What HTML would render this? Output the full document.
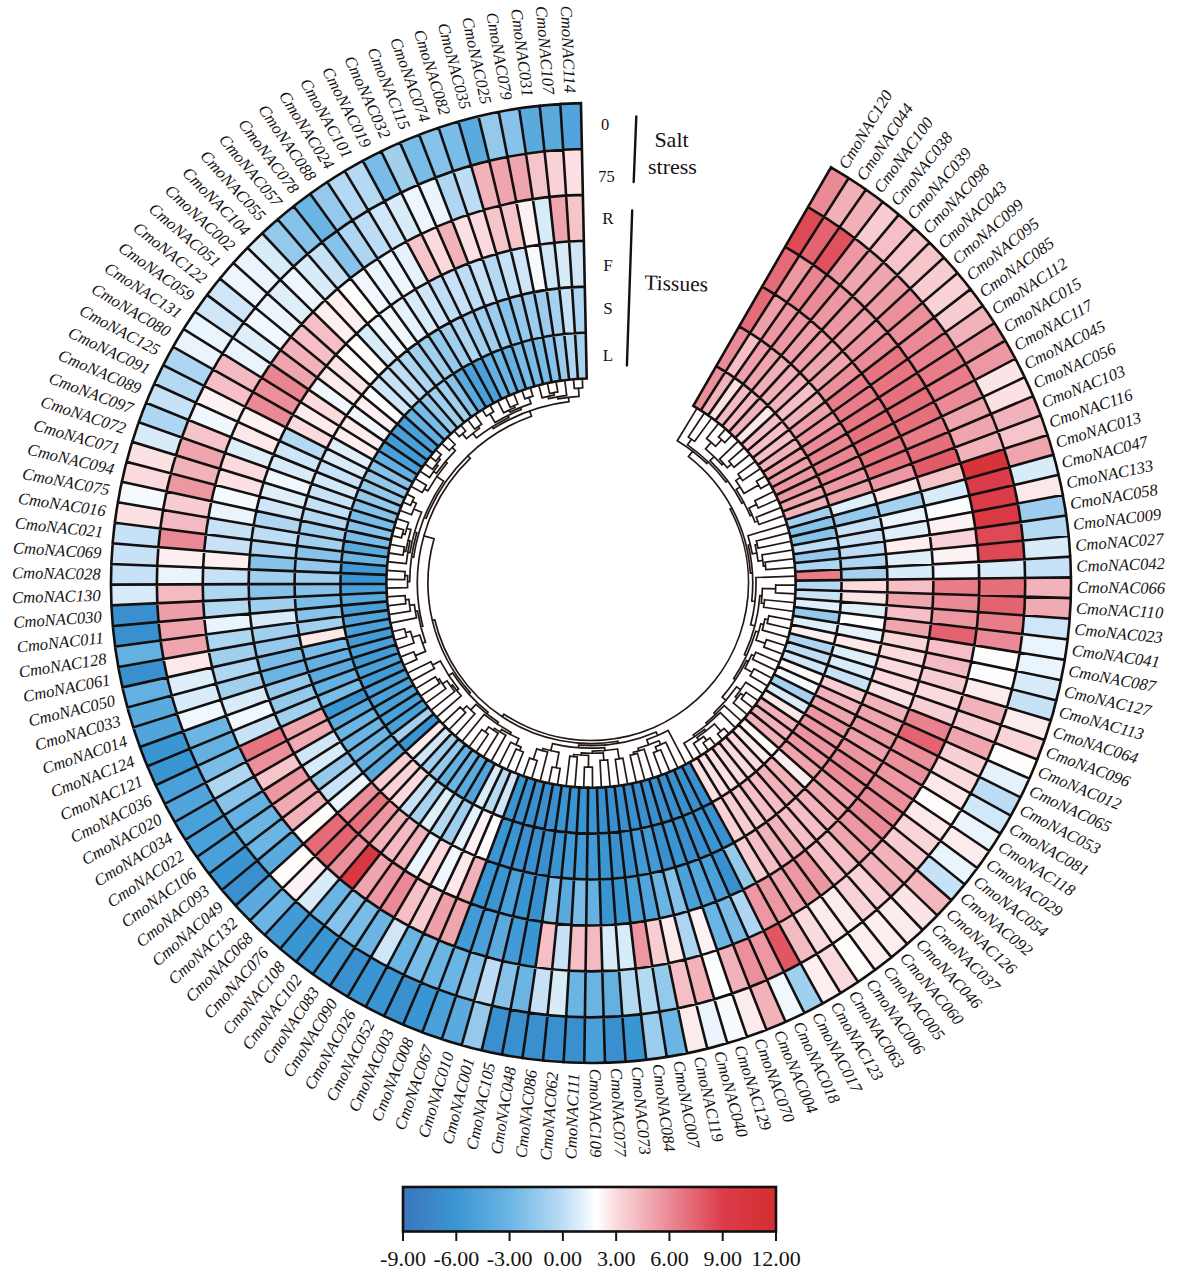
<!DOCTYPE html>
<html lang="en"><head><meta charset="utf-8"><title>CmoNAC expression heatmap</title>
<style>html,body{margin:0;padding:0;background:#fff}svg{display:block}</style></head>
<body>
<svg width="1182" height="1276" viewBox="0 0 1182 1276">
<rect width="1182" height="1276" fill="#fff"/>
<g stroke="none">
<path d="M831 167.31A480 480 0 0 1 848.71 178.05L824.06 216.77A434.1 434.1 0 0 0 808.05 207.06Z" fill="#ea8a96"/>
<path d="M808.05 207.06A434.1 434.1 0 0 1 824.06 216.77L799.42 255.49A388.2 388.2 0 0 0 785.1 246.81Z" fill="#de4956"/>
<path d="M785.1 246.81A388.2 388.2 0 0 1 799.42 255.49L774.78 294.22A342.3 342.3 0 0 0 762.15 286.56Z" fill="#e46b77"/>
<path d="M762.15 286.56A342.3 342.3 0 0 1 774.78 294.22L750.13 332.94A296.4 296.4 0 0 0 739.2 326.31Z" fill="#e46b77"/>
<path d="M739.2 326.31A296.4 296.4 0 0 1 750.13 332.94L725.49 371.67A250.5 250.5 0 0 0 716.25 366.06Z" fill="#ea8a96"/>
<path d="M716.25 366.06A250.5 250.5 0 0 1 725.49 371.67L700.85 410.39A204.6 204.6 0 0 0 693.3 405.81Z" fill="#eb8f9b"/>
<path d="M848.71 178.05A480 480 0 0 1 865.93 189.54L839.64 227.16A434.1 434.1 0 0 0 824.06 216.77Z" fill="#f1afb7"/>
<path d="M824.06 216.77A434.1 434.1 0 0 1 839.64 227.16L813.35 264.79A388.2 388.2 0 0 0 799.42 255.49Z" fill="#e36370"/>
<path d="M799.42 255.49A388.2 388.2 0 0 1 813.35 264.79L787.06 302.41A342.3 342.3 0 0 0 774.78 294.22Z" fill="#ed97a2"/>
<path d="M774.78 294.22A342.3 342.3 0 0 1 787.06 302.41L760.77 340.04A296.4 296.4 0 0 0 750.13 332.94Z" fill="#ee9fa9"/>
<path d="M750.13 332.94A296.4 296.4 0 0 1 760.77 340.04L734.48 377.66A250.5 250.5 0 0 0 725.49 371.67Z" fill="#f5bfc5"/>
<path d="M725.49 371.67A250.5 250.5 0 0 1 734.48 377.66L708.19 415.29A204.6 204.6 0 0 0 700.85 410.39Z" fill="#f2b2ba"/>
<path d="M865.93 189.54A480 480 0 0 1 882.65 201.77L854.76 238.22A434.1 434.1 0 0 0 839.64 227.16Z" fill="#f1afb7"/>
<path d="M839.64 227.16A434.1 434.1 0 0 1 854.76 238.22L826.87 274.68A388.2 388.2 0 0 0 813.35 264.79Z" fill="#e0515e"/>
<path d="M813.35 264.79A388.2 388.2 0 0 1 826.87 274.68L798.98 311.13A342.3 342.3 0 0 0 787.06 302.41Z" fill="#e98591"/>
<path d="M787.06 302.41A342.3 342.3 0 0 1 798.98 311.13L771.09 347.59A296.4 296.4 0 0 0 760.77 340.04Z" fill="#ed97a2"/>
<path d="M760.77 340.04A296.4 296.4 0 0 1 771.09 347.59L743.21 384.04A250.5 250.5 0 0 0 734.48 377.66Z" fill="#ee9fa9"/>
<path d="M734.48 377.66A250.5 250.5 0 0 1 743.21 384.04L715.32 420.5A204.6 204.6 0 0 0 708.19 415.29Z" fill="#fbe1e3"/>
<path d="M882.65 201.77A480 480 0 0 1 898.82 214.7L869.39 249.92A434.1 434.1 0 0 0 854.76 238.22Z" fill="#f7cdd1"/>
<path d="M854.76 238.22A434.1 434.1 0 0 1 869.39 249.92L839.95 285.14A388.2 388.2 0 0 0 826.87 274.68Z" fill="#ed97a2"/>
<path d="M826.87 274.68A388.2 388.2 0 0 1 839.95 285.14L810.52 320.36A342.3 342.3 0 0 0 798.98 311.13Z" fill="#ea8a96"/>
<path d="M798.98 311.13A342.3 342.3 0 0 1 810.52 320.36L781.08 355.57A296.4 296.4 0 0 0 771.09 347.59Z" fill="#ed97a2"/>
<path d="M771.09 347.59A296.4 296.4 0 0 1 781.08 355.57L751.65 390.79A250.5 250.5 0 0 0 743.21 384.04Z" fill="#efa5ae"/>
<path d="M743.21 384.04A250.5 250.5 0 0 1 751.65 390.79L722.21 426.01A204.6 204.6 0 0 0 715.32 420.5Z" fill="#f4bac1"/>
<path d="M898.82 214.7A480 480 0 0 1 914.42 228.32L883.5 262.24A434.1 434.1 0 0 0 869.39 249.92Z" fill="#f5bfc5"/>
<path d="M869.39 249.92A434.1 434.1 0 0 1 883.5 262.24L852.57 296.15A388.2 388.2 0 0 0 839.95 285.14Z" fill="#efa5ae"/>
<path d="M839.95 285.14A388.2 388.2 0 0 1 852.57 296.15L821.64 330.07A342.3 342.3 0 0 0 810.52 320.36Z" fill="#ed97a2"/>
<path d="M810.52 320.36A342.3 342.3 0 0 1 821.64 330.07L790.71 363.99A296.4 296.4 0 0 0 781.08 355.57Z" fill="#ee9fa9"/>
<path d="M781.08 355.57A296.4 296.4 0 0 1 790.71 363.99L759.79 397.9A250.5 250.5 0 0 0 751.65 390.79Z" fill="#f1afb7"/>
<path d="M751.65 390.79A250.5 250.5 0 0 1 759.79 397.9L728.86 431.82A204.6 204.6 0 0 0 722.21 426.01Z" fill="#f4bac1"/>
<path d="M914.42 228.32A480 480 0 0 1 929.42 242.6L897.06 275.15A434.1 434.1 0 0 0 883.5 262.24Z" fill="#f6c5ca"/>
<path d="M883.5 262.24A434.1 434.1 0 0 1 897.06 275.15L864.7 307.7A388.2 388.2 0 0 0 852.57 296.15Z" fill="#efa5ae"/>
<path d="M852.57 296.15A388.2 388.2 0 0 1 864.7 307.7L832.34 340.25A342.3 342.3 0 0 0 821.64 330.07Z" fill="#ed97a2"/>
<path d="M821.64 330.07A342.3 342.3 0 0 1 832.34 340.25L799.97 372.8A296.4 296.4 0 0 0 790.71 363.99Z" fill="#ee9fa9"/>
<path d="M790.71 363.99A296.4 296.4 0 0 1 799.97 372.8L767.61 405.35A250.5 250.5 0 0 0 759.79 397.9Z" fill="#f1afb7"/>
<path d="M759.79 397.9A250.5 250.5 0 0 1 767.61 405.35L735.25 437.91A204.6 204.6 0 0 0 728.86 431.82Z" fill="#f2b2ba"/>
<path d="M929.42 242.6A480 480 0 0 1 943.79 257.52L910.05 288.64A434.1 434.1 0 0 0 897.06 275.15Z" fill="#f6c5ca"/>
<path d="M897.06 275.15A434.1 434.1 0 0 1 910.05 288.64L876.32 319.76A388.2 388.2 0 0 0 864.7 307.7Z" fill="#ee9da7"/>
<path d="M864.7 307.7A388.2 388.2 0 0 1 876.32 319.76L842.58 350.89A342.3 342.3 0 0 0 832.34 340.25Z" fill="#ee9fa9"/>
<path d="M832.34 340.25A342.3 342.3 0 0 1 842.58 350.89L808.85 382.01A296.4 296.4 0 0 0 799.97 372.8Z" fill="#efa5ae"/>
<path d="M799.97 372.8A296.4 296.4 0 0 1 808.85 382.01L775.11 413.14A250.5 250.5 0 0 0 767.61 405.35Z" fill="#f2b2ba"/>
<path d="M767.61 405.35A250.5 250.5 0 0 1 775.11 413.14L741.38 444.26A204.6 204.6 0 0 0 735.25 437.91Z" fill="#fce7e9"/>
<path d="M943.79 257.52A480 480 0 0 1 957.5 273.04L922.45 302.68A434.1 434.1 0 0 0 910.05 288.64Z" fill="#f7cdd1"/>
<path d="M910.05 288.64A434.1 434.1 0 0 1 922.45 302.68L887.41 332.32A388.2 388.2 0 0 0 876.32 319.76Z" fill="#eb8f9b"/>
<path d="M876.32 319.76A388.2 388.2 0 0 1 887.41 332.32L852.36 361.96A342.3 342.3 0 0 0 842.58 350.89Z" fill="#ed97a2"/>
<path d="M842.58 350.89A342.3 342.3 0 0 1 852.36 361.96L817.31 391.6A296.4 296.4 0 0 0 808.85 382.01Z" fill="#efa5ae"/>
<path d="M808.85 382.01A296.4 296.4 0 0 1 817.31 391.6L782.27 421.24A250.5 250.5 0 0 0 775.11 413.14Z" fill="#f5bfc5"/>
<path d="M775.11 413.14A250.5 250.5 0 0 1 782.27 421.24L747.22 450.88A204.6 204.6 0 0 0 741.38 444.26Z" fill="#f5bfc5"/>
<path d="M957.5 273.04A480 480 0 0 1 970.53 289.13L934.24 317.23A434.1 434.1 0 0 0 922.45 302.68Z" fill="#f8d2d6"/>
<path d="M922.45 302.68A434.1 434.1 0 0 1 934.24 317.23L897.94 345.34A388.2 388.2 0 0 0 887.41 332.32Z" fill="#eb8f9b"/>
<path d="M887.41 332.32A388.2 388.2 0 0 1 897.94 345.34L861.65 373.44A342.3 342.3 0 0 0 852.36 361.96Z" fill="#ea8a96"/>
<path d="M852.36 361.96A342.3 342.3 0 0 1 861.65 373.44L825.36 401.54A296.4 296.4 0 0 0 817.31 391.6Z" fill="#eb8f9b"/>
<path d="M817.31 391.6A296.4 296.4 0 0 1 825.36 401.54L789.07 429.64A250.5 250.5 0 0 0 782.27 421.24Z" fill="#f2b2ba"/>
<path d="M782.27 421.24A250.5 250.5 0 0 1 789.07 429.64L752.77 457.74A204.6 204.6 0 0 0 747.22 450.88Z" fill="#f5bfc5"/>
<path d="M970.53 289.13A480 480 0 0 1 982.85 305.78L945.38 332.29A434.1 434.1 0 0 0 934.24 317.23Z" fill="#f7cdd1"/>
<path d="M934.24 317.23A434.1 434.1 0 0 1 945.38 332.29L907.91 358.8A388.2 388.2 0 0 0 897.94 345.34Z" fill="#ea8a96"/>
<path d="M897.94 345.34A388.2 388.2 0 0 1 907.91 358.8L870.44 385.31A342.3 342.3 0 0 0 861.65 373.44Z" fill="#e67581"/>
<path d="M861.65 373.44A342.3 342.3 0 0 1 870.44 385.31L832.97 411.82A296.4 296.4 0 0 0 825.36 401.54Z" fill="#e87d89"/>
<path d="M825.36 401.54A296.4 296.4 0 0 1 832.97 411.82L795.5 438.32A250.5 250.5 0 0 0 789.07 429.64Z" fill="#ee9fa9"/>
<path d="M789.07 429.64A250.5 250.5 0 0 1 795.5 438.32L758.03 464.83A204.6 204.6 0 0 0 752.77 457.74Z" fill="#f5bfc5"/>
<path d="M982.85 305.78A480 480 0 0 1 994.44 322.94L955.87 347.81A434.1 434.1 0 0 0 945.38 332.29Z" fill="#f2b2ba"/>
<path d="M945.38 332.29A434.1 434.1 0 0 1 955.87 347.81L917.29 372.67A388.2 388.2 0 0 0 907.91 358.8Z" fill="#e9828e"/>
<path d="M907.91 358.8A388.2 388.2 0 0 1 917.29 372.67L878.71 397.54A342.3 342.3 0 0 0 870.44 385.31Z" fill="#e67581"/>
<path d="M870.44 385.31A342.3 342.3 0 0 1 878.71 397.54L840.13 422.41A296.4 296.4 0 0 0 832.97 411.82Z" fill="#e87d89"/>
<path d="M832.97 411.82A296.4 296.4 0 0 1 840.13 422.41L801.55 447.28A250.5 250.5 0 0 0 795.5 438.32Z" fill="#ed97a2"/>
<path d="M795.5 438.32A250.5 250.5 0 0 1 801.55 447.28L762.97 472.15A204.6 204.6 0 0 0 758.03 464.83Z" fill="#f2b2ba"/>
<path d="M994.44 322.94A480 480 0 0 1 1005.29 340.58L965.67 363.76A434.1 434.1 0 0 0 955.87 347.81Z" fill="#ed97a2"/>
<path d="M955.87 347.81A434.1 434.1 0 0 1 965.67 363.76L926.05 386.94A388.2 388.2 0 0 0 917.29 372.67Z" fill="#e87d89"/>
<path d="M917.29 372.67A388.2 388.2 0 0 1 926.05 386.94L886.44 410.13A342.3 342.3 0 0 0 878.71 397.54Z" fill="#e5707c"/>
<path d="M878.71 397.54A342.3 342.3 0 0 1 886.44 410.13L846.82 433.31A296.4 296.4 0 0 0 840.13 422.41Z" fill="#e67581"/>
<path d="M840.13 422.41A296.4 296.4 0 0 1 846.82 433.31L807.21 456.49A250.5 250.5 0 0 0 801.55 447.28Z" fill="#ea8a96"/>
<path d="M801.55 447.28A250.5 250.5 0 0 1 807.21 456.49L767.59 479.67A204.6 204.6 0 0 0 762.97 472.15Z" fill="#efa5ae"/>
<path d="M1005.29 340.58A480 480 0 0 1 1015.36 358.68L974.78 380.13A434.1 434.1 0 0 0 965.67 363.76Z" fill="#ed97a2"/>
<path d="M965.67 363.76A434.1 434.1 0 0 1 974.78 380.13L934.2 401.58A388.2 388.2 0 0 0 926.05 386.94Z" fill="#e87d89"/>
<path d="M926.05 386.94A388.2 388.2 0 0 1 934.2 401.58L893.62 423.03A342.3 342.3 0 0 0 886.44 410.13Z" fill="#e5707c"/>
<path d="M886.44 410.13A342.3 342.3 0 0 1 893.62 423.03L853.04 444.48A296.4 296.4 0 0 0 846.82 433.31Z" fill="#e5707c"/>
<path d="M846.82 433.31A296.4 296.4 0 0 1 853.04 444.48L812.46 465.93A250.5 250.5 0 0 0 807.21 456.49Z" fill="#e98591"/>
<path d="M807.21 456.49A250.5 250.5 0 0 1 812.46 465.93L771.88 487.38A204.6 204.6 0 0 0 767.59 479.67Z" fill="#ee9fa9"/>
<path d="M1015.36 358.68A480 480 0 0 1 1024.64 377.19L983.17 396.87A434.1 434.1 0 0 0 974.78 380.13Z" fill="#fbe4e6"/>
<path d="M974.78 380.13A434.1 434.1 0 0 1 983.17 396.87L941.71 416.55A388.2 388.2 0 0 0 934.2 401.58Z" fill="#ea8a96"/>
<path d="M934.2 401.58A388.2 388.2 0 0 1 941.71 416.55L900.24 436.23A342.3 342.3 0 0 0 893.62 423.03Z" fill="#e5707c"/>
<path d="M893.62 423.03A342.3 342.3 0 0 1 900.24 436.23L858.77 455.91A296.4 296.4 0 0 0 853.04 444.48Z" fill="#e5707c"/>
<path d="M853.04 444.48A296.4 296.4 0 0 1 858.77 455.91L817.31 475.59A250.5 250.5 0 0 0 812.46 465.93Z" fill="#e98591"/>
<path d="M812.46 465.93A250.5 250.5 0 0 1 817.31 475.59L775.84 495.27A204.6 204.6 0 0 0 771.88 487.38Z" fill="#ed97a2"/>
<path d="M1024.64 377.19A480 480 0 0 1 1033.11 396.09L990.84 413.96A434.1 434.1 0 0 0 983.17 396.87Z" fill="#fbe1e3"/>
<path d="M983.17 396.87A434.1 434.1 0 0 1 990.84 413.96L948.56 431.83A388.2 388.2 0 0 0 941.71 416.55Z" fill="#efa5ae"/>
<path d="M941.71 416.55A388.2 388.2 0 0 1 948.56 431.83L906.28 449.71A342.3 342.3 0 0 0 900.24 436.23Z" fill="#e87d89"/>
<path d="M900.24 436.23A342.3 342.3 0 0 1 906.28 449.71L864 467.58A296.4 296.4 0 0 0 858.77 455.91Z" fill="#e67581"/>
<path d="M858.77 455.91A296.4 296.4 0 0 1 864 467.58L821.73 485.45A250.5 250.5 0 0 0 817.31 475.59Z" fill="#ea8a96"/>
<path d="M817.31 475.59A250.5 250.5 0 0 1 821.73 485.45L779.45 503.33A204.6 204.6 0 0 0 775.84 495.27Z" fill="#ed97a2"/>
<path d="M1033.11 396.09A480 480 0 0 1 1040.76 415.33L997.75 431.36A434.1 434.1 0 0 0 990.84 413.96Z" fill="#f2b2ba"/>
<path d="M990.84 413.96A434.1 434.1 0 0 1 997.75 431.36L954.75 447.4A388.2 388.2 0 0 0 948.56 431.83Z" fill="#efa5ae"/>
<path d="M948.56 431.83A388.2 388.2 0 0 1 954.75 447.4L911.74 463.43A342.3 342.3 0 0 0 906.28 449.71Z" fill="#e5707c"/>
<path d="M906.28 449.71A342.3 342.3 0 0 1 911.74 463.43L868.73 479.46A296.4 296.4 0 0 0 864 467.58Z" fill="#e67581"/>
<path d="M864 467.58A296.4 296.4 0 0 1 868.73 479.46L825.72 495.5A250.5 250.5 0 0 0 821.73 485.45Z" fill="#ed97a2"/>
<path d="M821.73 485.45A250.5 250.5 0 0 1 825.72 495.5L782.71 511.53A204.6 204.6 0 0 0 779.45 503.33Z" fill="#efa5ae"/>
<path d="M1040.76 415.33A480 480 0 0 1 1047.58 434.89L1003.92 449.05A434.1 434.1 0 0 0 997.75 431.36Z" fill="#f6c5ca"/>
<path d="M997.75 431.36A434.1 434.1 0 0 1 1003.92 449.05L960.26 463.21A388.2 388.2 0 0 0 954.75 447.4Z" fill="#f2b2ba"/>
<path d="M954.75 447.4A388.2 388.2 0 0 1 960.26 463.21L916.6 477.38A342.3 342.3 0 0 0 911.74 463.43Z" fill="#e25b68"/>
<path d="M911.74 463.43A342.3 342.3 0 0 1 916.6 477.38L872.94 491.54A296.4 296.4 0 0 0 868.73 479.46Z" fill="#ed97a2"/>
<path d="M868.73 479.46A296.4 296.4 0 0 1 872.94 491.54L829.28 505.7A250.5 250.5 0 0 0 825.72 495.5Z" fill="#efa5ae"/>
<path d="M825.72 495.5A250.5 250.5 0 0 1 829.28 505.7L785.62 519.87A204.6 204.6 0 0 0 782.71 511.53Z" fill="#f2b2ba"/>
<path d="M1047.58 434.89A480 480 0 0 1 1053.54 454.72L1009.31 466.99A434.1 434.1 0 0 0 1003.92 449.05Z" fill="#efa5ae"/>
<path d="M1003.92 449.05A434.1 434.1 0 0 1 1009.31 466.99L965.08 479.25A388.2 388.2 0 0 0 960.26 463.21Z" fill="#d73338"/>
<path d="M960.26 463.21A388.2 388.2 0 0 1 965.08 479.25L920.85 491.52A342.3 342.3 0 0 0 916.6 477.38Z" fill="#f6c5ca"/>
<path d="M916.6 477.38A342.3 342.3 0 0 1 920.85 491.52L876.62 503.79A296.4 296.4 0 0 0 872.94 491.54Z" fill="#fce7e9"/>
<path d="M872.94 491.54A296.4 296.4 0 0 1 876.62 503.79L832.39 516.05A250.5 250.5 0 0 0 829.28 505.7Z" fill="#dfeffa"/>
<path d="M829.28 505.7A250.5 250.5 0 0 1 832.39 516.05L788.16 528.32A204.6 204.6 0 0 0 785.62 519.87Z" fill="#a1d0ef"/>
<path d="M1053.54 454.72A480 480 0 0 1 1058.64 474.79L1013.93 485.14A434.1 434.1 0 0 0 1009.31 466.99Z" fill="#d8ebf9"/>
<path d="M1009.31 466.99A434.1 434.1 0 0 1 1013.93 485.14L969.21 495.49A388.2 388.2 0 0 0 965.08 479.25Z" fill="#dc3c49"/>
<path d="M965.08 479.25A388.2 388.2 0 0 1 969.21 495.49L924.49 505.83A342.3 342.3 0 0 0 920.85 491.52Z" fill="#d8ebf9"/>
<path d="M920.85 491.52A342.3 342.3 0 0 1 924.49 505.83L879.77 516.18A296.4 296.4 0 0 0 876.62 503.79Z" fill="#a6d2f0"/>
<path d="M876.62 503.79A296.4 296.4 0 0 1 879.77 516.18L835.05 526.53A250.5 250.5 0 0 0 832.39 516.05Z" fill="#94c9ec"/>
<path d="M832.39 516.05A250.5 250.5 0 0 1 835.05 526.53L790.33 536.88A204.6 204.6 0 0 0 788.16 528.32Z" fill="#86c2ea"/>
<path d="M1058.64 474.79A480 480 0 0 1 1062.88 495.06L1017.75 503.47A434.1 434.1 0 0 0 1013.93 485.14Z" fill="#fce7e9"/>
<path d="M1013.93 485.14A434.1 434.1 0 0 1 1017.75 503.47L972.63 511.88A388.2 388.2 0 0 0 969.21 495.49Z" fill="#dc3c49"/>
<path d="M969.21 495.49A388.2 388.2 0 0 1 972.63 511.88L927.51 520.29A342.3 342.3 0 0 0 924.49 505.83Z" fill="#fbfdfe"/>
<path d="M924.49 505.83A342.3 342.3 0 0 1 927.51 520.29L882.38 528.7A296.4 296.4 0 0 0 879.77 516.18Z" fill="#eaf4fc"/>
<path d="M879.77 516.18A296.4 296.4 0 0 1 882.38 528.7L837.26 537.11A250.5 250.5 0 0 0 835.05 526.53Z" fill="#c7e2f7"/>
<path d="M835.05 526.53A250.5 250.5 0 0 1 837.26 537.11L792.14 545.52A204.6 204.6 0 0 0 790.33 536.88Z" fill="#86c2ea"/>
<path d="M1062.88 495.06A480 480 0 0 1 1066.23 515.5L1020.79 521.95A434.1 434.1 0 0 0 1017.75 503.47Z" fill="#9ccdee"/>
<path d="M1017.75 503.47A434.1 434.1 0 0 1 1020.79 521.95L975.34 528.41A388.2 388.2 0 0 0 972.63 511.88Z" fill="#da3842"/>
<path d="M972.63 511.88A388.2 388.2 0 0 1 975.34 528.41L929.9 534.86A342.3 342.3 0 0 0 927.51 520.29Z" fill="#fdf2f3"/>
<path d="M927.51 520.29A342.3 342.3 0 0 1 929.9 534.86L884.45 541.32A296.4 296.4 0 0 0 882.38 528.7Z" fill="#dfeffa"/>
<path d="M882.38 528.7A296.4 296.4 0 0 1 884.45 541.32L839.01 547.77A250.5 250.5 0 0 0 837.26 537.11Z" fill="#c7e2f7"/>
<path d="M837.26 537.11A250.5 250.5 0 0 1 839.01 547.77L793.57 554.23A204.6 204.6 0 0 0 792.14 545.52Z" fill="#bcddf5"/>
<path d="M1066.23 515.5A480 480 0 0 1 1068.7 536.06L1023.02 540.55A434.1 434.1 0 0 0 1020.79 521.95Z" fill="#b4d9f3"/>
<path d="M1020.79 521.95A434.1 434.1 0 0 1 1023.02 540.55L977.34 545.04A388.2 388.2 0 0 0 975.34 528.41Z" fill="#de4956"/>
<path d="M975.34 528.41A388.2 388.2 0 0 1 977.34 545.04L931.66 549.53A342.3 342.3 0 0 0 929.9 534.86Z" fill="#f8d2d6"/>
<path d="M929.9 534.86A342.3 342.3 0 0 1 931.66 549.53L885.98 554.01A296.4 296.4 0 0 0 884.45 541.32Z" fill="#fdeef0"/>
<path d="M884.45 541.32A296.4 296.4 0 0 1 885.98 554.01L840.3 558.5A250.5 250.5 0 0 0 839.01 547.77Z" fill="#bcddf5"/>
<path d="M839.01 547.77A250.5 250.5 0 0 1 840.3 558.5L794.62 562.99A204.6 204.6 0 0 0 793.57 554.23Z" fill="#94c9ec"/>
<path d="M1068.7 536.06A480 480 0 0 1 1070.28 556.71L1024.45 559.22A434.1 434.1 0 0 0 1023.02 540.55Z" fill="#d8ebf9"/>
<path d="M1023.02 540.55A434.1 434.1 0 0 1 1024.45 559.22L978.62 561.74A388.2 388.2 0 0 0 977.34 545.04Z" fill="#de4956"/>
<path d="M977.34 545.04A388.2 388.2 0 0 1 978.62 561.74L932.79 564.25A342.3 342.3 0 0 0 931.66 549.53Z" fill="#fdf2f3"/>
<path d="M931.66 549.53A342.3 342.3 0 0 1 932.79 564.25L886.96 566.77A296.4 296.4 0 0 0 885.98 554.01Z" fill="#dfeffa"/>
<path d="M885.98 554.01A296.4 296.4 0 0 1 886.96 566.77L841.12 569.28A250.5 250.5 0 0 0 840.3 558.5Z" fill="#aed6f2"/>
<path d="M840.3 558.5A250.5 250.5 0 0 1 841.12 569.28L795.29 571.79A204.6 204.6 0 0 0 794.62 562.99Z" fill="#aed6f2"/>
<path d="M1070.28 556.71A480 480 0 0 1 1070.97 577.41L1025.07 577.94A434.1 434.1 0 0 0 1024.45 559.22Z" fill="#c7e2f7"/>
<path d="M1024.45 559.22A434.1 434.1 0 0 1 1025.07 577.94L979.17 578.48A388.2 388.2 0 0 0 978.62 561.74Z" fill="#d8ebf9"/>
<path d="M978.62 561.74A388.2 388.2 0 0 1 979.17 578.48L933.28 579.01A342.3 342.3 0 0 0 932.79 564.25Z" fill="#edf6fc"/>
<path d="M932.79 564.25A342.3 342.3 0 0 1 933.28 579.01L887.38 579.55A296.4 296.4 0 0 0 886.96 566.77Z" fill="#d8ebf9"/>
<path d="M886.96 566.77A296.4 296.4 0 0 1 887.38 579.55L841.48 580.08A250.5 250.5 0 0 0 841.12 569.28Z" fill="#a6d2f0"/>
<path d="M841.12 569.28A250.5 250.5 0 0 1 841.48 580.08L795.59 580.62A204.6 204.6 0 0 0 795.29 571.79Z" fill="#e87d89"/>
<path d="M1070.97 577.41A480 480 0 0 1 1070.76 598.11L1024.88 596.67A434.1 434.1 0 0 0 1025.07 577.94Z" fill="#f2b2ba"/>
<path d="M1025.07 577.94A434.1 434.1 0 0 1 1024.88 596.67L979.01 595.22A388.2 388.2 0 0 0 979.17 578.48Z" fill="#e5707c"/>
<path d="M979.17 578.48A388.2 388.2 0 0 1 979.01 595.22L933.13 593.78A342.3 342.3 0 0 0 933.28 579.01Z" fill="#e87d89"/>
<path d="M933.28 579.01A342.3 342.3 0 0 1 933.13 593.78L887.25 592.33A296.4 296.4 0 0 0 887.38 579.55Z" fill="#f5bfc5"/>
<path d="M887.38 579.55A296.4 296.4 0 0 1 887.25 592.33L841.38 590.89A250.5 250.5 0 0 0 841.48 580.08Z" fill="#fadadd"/>
<path d="M841.48 580.08A250.5 250.5 0 0 1 841.38 590.89L795.5 589.44A204.6 204.6 0 0 0 795.59 580.62Z" fill="#b4d9f3"/>
<path d="M1070.76 598.11A480 480 0 0 1 1069.66 618.8L1023.89 615.37A434.1 434.1 0 0 0 1024.88 596.67Z" fill="#f0aab2"/>
<path d="M1024.88 596.67A434.1 434.1 0 0 1 1023.89 615.37L978.12 611.95A388.2 388.2 0 0 0 979.01 595.22Z" fill="#e36370"/>
<path d="M979.01 595.22A388.2 388.2 0 0 1 978.12 611.95L932.35 608.53A342.3 342.3 0 0 0 933.13 593.78Z" fill="#ea8a96"/>
<path d="M933.13 593.78A342.3 342.3 0 0 1 932.35 608.53L886.57 605.1A296.4 296.4 0 0 0 887.25 592.33Z" fill="#efa5ae"/>
<path d="M887.25 592.33A296.4 296.4 0 0 1 886.57 605.1L840.8 601.68A250.5 250.5 0 0 0 841.38 590.89Z" fill="#fbe4e6"/>
<path d="M841.38 590.89A250.5 250.5 0 0 1 840.8 601.68L795.03 598.26A204.6 204.6 0 0 0 795.5 589.44Z" fill="#c7e2f7"/>
<path d="M1069.66 618.8A480 480 0 0 1 1067.67 639.41L1022.09 634.01A434.1 434.1 0 0 0 1023.89 615.37Z" fill="#cee6f8"/>
<path d="M1023.89 615.37A434.1 434.1 0 0 1 1022.09 634.01L976.51 628.62A388.2 388.2 0 0 0 978.12 611.95Z" fill="#e87d89"/>
<path d="M978.12 611.95A388.2 388.2 0 0 1 976.51 628.62L930.93 623.23A342.3 342.3 0 0 0 932.35 608.53Z" fill="#ed97a2"/>
<path d="M932.35 608.53A342.3 342.3 0 0 1 930.93 623.23L885.35 617.83A296.4 296.4 0 0 0 886.57 605.1Z" fill="#f5bfc5"/>
<path d="M886.57 605.1A296.4 296.4 0 0 1 885.35 617.83L839.76 612.44A250.5 250.5 0 0 0 840.8 601.68Z" fill="#dfeffa"/>
<path d="M840.8 601.68A250.5 250.5 0 0 1 839.76 612.44L794.18 607.04A204.6 204.6 0 0 0 795.03 598.26Z" fill="#dfeffa"/>
<path d="M1067.67 639.41A480 480 0 0 1 1064.8 659.92L1019.49 652.56A434.1 434.1 0 0 0 1022.09 634.01Z" fill="#eaf4fc"/>
<path d="M1022.09 634.01A434.1 434.1 0 0 1 1019.49 652.56L974.18 645.21A388.2 388.2 0 0 0 976.51 628.62Z" fill="#ea8a96"/>
<path d="M976.51 628.62A388.2 388.2 0 0 1 974.18 645.21L928.88 637.85A342.3 342.3 0 0 0 930.93 623.23Z" fill="#e36370"/>
<path d="M930.93 623.23A342.3 342.3 0 0 1 928.88 637.85L883.57 630.5A296.4 296.4 0 0 0 885.35 617.83Z" fill="#efa5ae"/>
<path d="M885.35 617.83A296.4 296.4 0 0 1 883.57 630.5L838.26 623.14A250.5 250.5 0 0 0 839.76 612.44Z" fill="#ffffff"/>
<path d="M839.76 612.44A250.5 250.5 0 0 1 838.26 623.14L792.96 615.79A204.6 204.6 0 0 0 794.18 607.04Z" fill="#94c9ec"/>
<path d="M1064.8 659.92A480 480 0 0 1 1061.04 680.28L1016.09 670.98A434.1 434.1 0 0 0 1019.49 652.56Z" fill="#eaf4fc"/>
<path d="M1019.49 652.56A434.1 434.1 0 0 1 1016.09 670.98L971.14 661.68A388.2 388.2 0 0 0 974.18 645.21Z" fill="#fffcfc"/>
<path d="M974.18 645.21A388.2 388.2 0 0 1 971.14 661.68L926.2 652.37A342.3 342.3 0 0 0 928.88 637.85Z" fill="#f5bfc5"/>
<path d="M928.88 637.85A342.3 342.3 0 0 1 926.2 652.37L881.25 643.07A296.4 296.4 0 0 0 883.57 630.5Z" fill="#f9d5d8"/>
<path d="M883.57 630.5A296.4 296.4 0 0 1 881.25 643.07L836.3 633.77A250.5 250.5 0 0 0 838.26 623.14Z" fill="#e6f2fb"/>
<path d="M838.26 623.14A250.5 250.5 0 0 1 836.3 633.77L791.35 624.47A204.6 204.6 0 0 0 792.96 615.79Z" fill="#dfeffa"/>
<path d="M1061.04 680.28A480 480 0 0 1 1056.4 700.47L1011.9 689.23A434.1 434.1 0 0 0 1016.09 670.98Z" fill="#d8ebf9"/>
<path d="M1016.09 670.98A434.1 434.1 0 0 1 1011.9 689.23L967.4 678A388.2 388.2 0 0 0 971.14 661.68Z" fill="#fbfdfe"/>
<path d="M971.14 661.68A388.2 388.2 0 0 1 967.4 678L922.89 666.77A342.3 342.3 0 0 0 926.2 652.37Z" fill="#f4bac1"/>
<path d="M926.2 652.37A342.3 342.3 0 0 1 922.89 666.77L878.39 655.54A296.4 296.4 0 0 0 881.25 643.07Z" fill="#fadadd"/>
<path d="M881.25 643.07A296.4 296.4 0 0 1 878.39 655.54L833.88 644.3A250.5 250.5 0 0 0 836.3 633.77Z" fill="#fce7e9"/>
<path d="M836.3 633.77A250.5 250.5 0 0 1 833.88 644.3L789.38 633.07A204.6 204.6 0 0 0 791.35 624.47Z" fill="#fdeef0"/>
<path d="M1056.4 700.47A480 480 0 0 1 1050.9 720.43L1006.93 707.29A434.1 434.1 0 0 0 1011.9 689.23Z" fill="#c7e2f7"/>
<path d="M1011.9 689.23A434.1 434.1 0 0 1 1006.93 707.29L962.95 694.15A388.2 388.2 0 0 0 967.4 678Z" fill="#fcebec"/>
<path d="M967.4 678A388.2 388.2 0 0 1 962.95 694.15L918.97 681.01A342.3 342.3 0 0 0 922.89 666.77Z" fill="#f7cdd1"/>
<path d="M922.89 666.77A342.3 342.3 0 0 1 918.97 681.01L874.99 667.86A296.4 296.4 0 0 0 878.39 655.54Z" fill="#fadadd"/>
<path d="M878.39 655.54A296.4 296.4 0 0 1 874.99 667.86L831.01 654.72A250.5 250.5 0 0 0 833.88 644.3Z" fill="#dfeffa"/>
<path d="M833.88 644.3A250.5 250.5 0 0 1 831.01 654.72L787.03 641.58A204.6 204.6 0 0 0 789.38 633.07Z" fill="#aed6f2"/>
<path d="M1050.9 720.43A480 480 0 0 1 1044.55 740.14L1001.18 725.12A434.1 434.1 0 0 0 1006.93 707.29Z" fill="#fcebec"/>
<path d="M1006.93 707.29A434.1 434.1 0 0 1 1001.18 725.12L957.81 710.09A388.2 388.2 0 0 0 962.95 694.15Z" fill="#f2b2ba"/>
<path d="M962.95 694.15A388.2 388.2 0 0 1 957.81 710.09L914.44 695.06A342.3 342.3 0 0 0 918.97 681.01Z" fill="#fadadd"/>
<path d="M918.97 681.01A342.3 342.3 0 0 1 914.44 695.06L871.07 680.04A296.4 296.4 0 0 0 874.99 667.86Z" fill="#fadadd"/>
<path d="M874.99 667.86A296.4 296.4 0 0 1 871.07 680.04L827.7 665.01A250.5 250.5 0 0 0 831.01 654.72Z" fill="#d8ebf9"/>
<path d="M831.01 654.72A250.5 250.5 0 0 1 827.7 665.01L784.33 649.98A204.6 204.6 0 0 0 787.03 641.58Z" fill="#bcddf5"/>
<path d="M1044.55 740.14A480 480 0 0 1 1037.35 759.56L994.67 742.68A434.1 434.1 0 0 0 1001.18 725.12Z" fill="#f9d5d8"/>
<path d="M1001.18 725.12A434.1 434.1 0 0 1 994.67 742.68L951.98 725.79A388.2 388.2 0 0 0 957.81 710.09Z" fill="#f7cdd1"/>
<path d="M957.81 710.09A388.2 388.2 0 0 1 951.98 725.79L909.3 708.91A342.3 342.3 0 0 0 914.44 695.06Z" fill="#f8cfd4"/>
<path d="M914.44 695.06A342.3 342.3 0 0 1 909.3 708.91L866.62 692.03A296.4 296.4 0 0 0 871.07 680.04Z" fill="#fbe1e3"/>
<path d="M871.07 680.04A296.4 296.4 0 0 1 866.62 692.03L823.94 675.14A250.5 250.5 0 0 0 827.7 665.01Z" fill="#c7e2f7"/>
<path d="M827.7 665.01A250.5 250.5 0 0 1 823.94 675.14L781.26 658.26A204.6 204.6 0 0 0 784.33 649.98Z" fill="#cee6f8"/>
<path d="M1037.35 759.56A480 480 0 0 1 1029.32 778.65L987.4 759.94A434.1 434.1 0 0 0 994.67 742.68Z" fill="#fffcfc"/>
<path d="M994.67 742.68A434.1 434.1 0 0 1 987.4 759.94L945.49 741.23A388.2 388.2 0 0 0 951.98 725.79Z" fill="#efa5ae"/>
<path d="M951.98 725.79A388.2 388.2 0 0 1 945.49 741.23L903.57 722.52A342.3 342.3 0 0 0 909.3 708.91Z" fill="#e9828e"/>
<path d="M909.3 708.91A342.3 342.3 0 0 1 903.57 722.52L861.66 703.81A296.4 296.4 0 0 0 866.62 692.03Z" fill="#f2b2ba"/>
<path d="M866.62 692.03A296.4 296.4 0 0 1 861.66 703.81L819.75 685.1A250.5 250.5 0 0 0 823.94 675.14Z" fill="#f7cdd1"/>
<path d="M823.94 675.14A250.5 250.5 0 0 1 819.75 685.1L777.83 666.39A204.6 204.6 0 0 0 781.26 658.26Z" fill="#fef8f9"/>
<path d="M1029.32 778.65A480 480 0 0 1 1020.47 797.37L979.4 776.87A434.1 434.1 0 0 0 987.4 759.94Z" fill="#e6f2fb"/>
<path d="M987.4 759.94A434.1 434.1 0 0 1 979.4 776.87L938.33 756.37A388.2 388.2 0 0 0 945.49 741.23Z" fill="#f8cfd4"/>
<path d="M945.49 741.23A388.2 388.2 0 0 1 938.33 756.37L897.27 735.87A342.3 342.3 0 0 0 903.57 722.52Z" fill="#e36370"/>
<path d="M903.57 722.52A342.3 342.3 0 0 1 897.27 735.87L856.2 715.37A296.4 296.4 0 0 0 861.66 703.81Z" fill="#efa5ae"/>
<path d="M861.66 703.81A296.4 296.4 0 0 1 856.2 715.37L815.13 694.88A250.5 250.5 0 0 0 819.75 685.1Z" fill="#f2b2ba"/>
<path d="M819.75 685.1A250.5 250.5 0 0 1 815.13 694.88L774.06 674.38A204.6 204.6 0 0 0 777.83 666.39Z" fill="#f4fafd"/>
<path d="M1020.47 797.37A480 480 0 0 1 1010.82 815.7L970.68 793.45A434.1 434.1 0 0 0 979.4 776.87Z" fill="#bcddf5"/>
<path d="M979.4 776.87A434.1 434.1 0 0 1 970.68 793.45L930.53 771.19A388.2 388.2 0 0 0 938.33 756.37Z" fill="#fadadd"/>
<path d="M938.33 756.37A388.2 388.2 0 0 1 930.53 771.19L890.39 748.94A342.3 342.3 0 0 0 897.27 735.87Z" fill="#eb8f9b"/>
<path d="M897.27 735.87A342.3 342.3 0 0 1 890.39 748.94L850.24 726.69A296.4 296.4 0 0 0 856.2 715.37Z" fill="#ed97a2"/>
<path d="M856.2 715.37A296.4 296.4 0 0 1 850.24 726.69L810.1 704.44A250.5 250.5 0 0 0 815.13 694.88Z" fill="#efa5ae"/>
<path d="M815.13 694.88A250.5 250.5 0 0 1 810.1 704.44L769.95 682.19A204.6 204.6 0 0 0 774.06 674.38Z" fill="#a6d2f0"/>
<path d="M1010.82 815.7A480 480 0 0 1 1000.4 833.59L961.25 809.63A434.1 434.1 0 0 0 970.68 793.45Z" fill="#d1e8f8"/>
<path d="M970.68 793.45A434.1 434.1 0 0 1 961.25 809.63L922.1 785.66A388.2 388.2 0 0 0 930.53 771.19Z" fill="#fce7e9"/>
<path d="M930.53 771.19A388.2 388.2 0 0 1 922.1 785.66L882.95 761.7A342.3 342.3 0 0 0 890.39 748.94Z" fill="#eb8f9b"/>
<path d="M890.39 748.94A342.3 342.3 0 0 1 882.95 761.7L843.8 737.74A296.4 296.4 0 0 0 850.24 726.69Z" fill="#ee9fa9"/>
<path d="M850.24 726.69A296.4 296.4 0 0 1 843.8 737.74L804.65 713.78A250.5 250.5 0 0 0 810.1 704.44Z" fill="#ed97a2"/>
<path d="M810.1 704.44A250.5 250.5 0 0 1 804.65 713.78L765.5 689.81A204.6 204.6 0 0 0 769.95 682.19Z" fill="#d8ebf9"/>
<path d="M1000.4 833.59A480 480 0 0 1 989.21 851.02L951.13 825.39A434.1 434.1 0 0 0 961.25 809.63Z" fill="#eaf4fc"/>
<path d="M961.25 809.63A434.1 434.1 0 0 1 951.13 825.39L913.05 799.76A388.2 388.2 0 0 0 922.1 785.66Z" fill="#fffcfc"/>
<path d="M922.1 785.66A388.2 388.2 0 0 1 913.05 799.76L874.97 774.13A342.3 342.3 0 0 0 882.95 761.7Z" fill="#ed97a2"/>
<path d="M882.95 761.7A342.3 342.3 0 0 1 874.97 774.13L836.89 748.5A296.4 296.4 0 0 0 843.8 737.74Z" fill="#ec959f"/>
<path d="M843.8 737.74A296.4 296.4 0 0 1 836.89 748.5L798.81 722.87A250.5 250.5 0 0 0 804.65 713.78Z" fill="#ed97a2"/>
<path d="M804.65 713.78A250.5 250.5 0 0 1 798.81 722.87L760.74 697.24A204.6 204.6 0 0 0 765.5 689.81Z" fill="#fce7e9"/>
<path d="M989.21 851.02A480 480 0 0 1 977.27 867.94L940.34 840.69A434.1 434.1 0 0 0 951.13 825.39Z" fill="#fcebec"/>
<path d="M951.13 825.39A434.1 434.1 0 0 1 940.34 840.69L903.4 813.45A388.2 388.2 0 0 0 913.05 799.76Z" fill="#fce7e9"/>
<path d="M913.05 799.76A388.2 388.2 0 0 1 903.4 813.45L866.46 786.2A342.3 342.3 0 0 0 874.97 774.13Z" fill="#eb8f9b"/>
<path d="M874.97 774.13A342.3 342.3 0 0 1 866.46 786.2L829.52 758.95A296.4 296.4 0 0 0 836.89 748.5Z" fill="#ea8a96"/>
<path d="M836.89 748.5A296.4 296.4 0 0 1 829.52 758.95L792.59 731.7A250.5 250.5 0 0 0 798.81 722.87Z" fill="#ec959f"/>
<path d="M798.81 722.87A250.5 250.5 0 0 1 792.59 731.7L755.65 704.46A204.6 204.6 0 0 0 760.74 697.24Z" fill="#f2b2ba"/>
<path d="M977.27 867.94A480 480 0 0 1 964.62 884.34L928.9 855.52A434.1 434.1 0 0 0 940.34 840.69Z" fill="#eaf4fc"/>
<path d="M940.34 840.69A434.1 434.1 0 0 1 928.9 855.52L893.17 826.71A388.2 388.2 0 0 0 903.4 813.45Z" fill="#f9d5d8"/>
<path d="M903.4 813.45A388.2 388.2 0 0 1 893.17 826.71L857.44 797.89A342.3 342.3 0 0 0 866.46 786.2Z" fill="#ea8a96"/>
<path d="M866.46 786.2A342.3 342.3 0 0 1 857.44 797.89L821.71 769.08A296.4 296.4 0 0 0 829.52 758.95Z" fill="#ea8a96"/>
<path d="M829.52 758.95A296.4 296.4 0 0 1 821.71 769.08L785.98 740.26A250.5 250.5 0 0 0 792.59 731.7Z" fill="#ed97a2"/>
<path d="M792.59 731.7A250.5 250.5 0 0 1 785.98 740.26L750.26 711.45A204.6 204.6 0 0 0 755.65 704.46Z" fill="#f2b2ba"/>
<path d="M964.62 884.34A480 480 0 0 1 951.28 900.17L916.83 869.84A434.1 434.1 0 0 0 928.9 855.52Z" fill="#c7e2f7"/>
<path d="M928.9 855.52A434.1 434.1 0 0 1 916.83 869.84L882.37 839.51A388.2 388.2 0 0 0 893.17 826.71Z" fill="#f7cdd1"/>
<path d="M893.17 826.71A388.2 388.2 0 0 1 882.37 839.51L847.92 809.19A342.3 342.3 0 0 0 857.44 797.89Z" fill="#ea8a96"/>
<path d="M857.44 797.89A342.3 342.3 0 0 1 847.92 809.19L813.47 778.86A296.4 296.4 0 0 0 821.71 769.08Z" fill="#ee9fa9"/>
<path d="M821.71 769.08A296.4 296.4 0 0 1 813.47 778.86L779.02 748.53A250.5 250.5 0 0 0 785.98 740.26Z" fill="#efa5ae"/>
<path d="M785.98 740.26A250.5 250.5 0 0 1 779.02 748.53L744.57 718.2A204.6 204.6 0 0 0 750.26 711.45Z" fill="#f2b2ba"/>
<path d="M951.28 900.17A480 480 0 0 1 937.26 915.42L904.15 883.63A434.1 434.1 0 0 0 916.83 869.84Z" fill="#f3b7be"/>
<path d="M916.83 869.84A434.1 434.1 0 0 1 904.15 883.63L871.04 851.84A388.2 388.2 0 0 0 882.37 839.51Z" fill="#f2b2ba"/>
<path d="M882.37 839.51A388.2 388.2 0 0 1 871.04 851.84L837.93 820.06A342.3 342.3 0 0 0 847.92 809.19Z" fill="#ed97a2"/>
<path d="M847.92 809.19A342.3 342.3 0 0 1 837.93 820.06L804.82 788.27A296.4 296.4 0 0 0 813.47 778.86Z" fill="#efa5ae"/>
<path d="M813.47 778.86A296.4 296.4 0 0 1 804.82 788.27L771.71 756.48A250.5 250.5 0 0 0 779.02 748.53Z" fill="#fdeef0"/>
<path d="M779.02 748.53A250.5 250.5 0 0 1 771.71 756.48L738.59 724.69A204.6 204.6 0 0 0 744.57 718.2Z" fill="#fffcfc"/>
<path d="M937.26 915.42A480 480 0 0 1 922.6 930.05L890.89 896.86A434.1 434.1 0 0 0 904.15 883.63Z" fill="#fbe4e6"/>
<path d="M904.15 883.63A434.1 434.1 0 0 1 890.89 896.86L859.18 863.67A388.2 388.2 0 0 0 871.04 851.84Z" fill="#f2b2ba"/>
<path d="M871.04 851.84A388.2 388.2 0 0 1 859.18 863.67L827.47 830.49A342.3 342.3 0 0 0 837.93 820.06Z" fill="#efa5ae"/>
<path d="M837.93 820.06A342.3 342.3 0 0 1 827.47 830.49L795.76 797.3A296.4 296.4 0 0 0 804.82 788.27Z" fill="#f2b2ba"/>
<path d="M804.82 788.27A296.4 296.4 0 0 1 795.76 797.3L764.05 764.11A250.5 250.5 0 0 0 771.71 756.48Z" fill="#f2b2ba"/>
<path d="M771.71 756.48A250.5 250.5 0 0 1 764.05 764.11L732.34 730.93A204.6 204.6 0 0 0 738.59 724.69Z" fill="#fcebec"/>
<path d="M922.6 930.05A480 480 0 0 1 907.32 944.03L877.07 909.5A434.1 434.1 0 0 0 890.89 896.86Z" fill="#fcebec"/>
<path d="M890.89 896.86A434.1 434.1 0 0 1 877.07 909.5L846.83 874.98A388.2 388.2 0 0 0 859.18 863.67Z" fill="#f8d2d6"/>
<path d="M859.18 863.67A388.2 388.2 0 0 1 846.83 874.98L816.58 840.46A342.3 342.3 0 0 0 827.47 830.49Z" fill="#f5bfc5"/>
<path d="M827.47 830.49A342.3 342.3 0 0 1 816.58 840.46L786.33 805.93A296.4 296.4 0 0 0 795.76 797.3Z" fill="#f5bfc5"/>
<path d="M795.76 797.3A296.4 296.4 0 0 1 786.33 805.93L756.08 771.41A250.5 250.5 0 0 0 764.05 764.11Z" fill="#f2b2ba"/>
<path d="M764.05 764.11A250.5 250.5 0 0 1 756.08 771.41L725.83 736.89A204.6 204.6 0 0 0 732.34 730.93Z" fill="#fadadd"/>
<path d="M907.32 944.03A480 480 0 0 1 891.46 957.33L862.72 921.54A434.1 434.1 0 0 0 877.07 909.5Z" fill="#fdeef0"/>
<path d="M877.07 909.5A434.1 434.1 0 0 1 862.72 921.54L833.99 885.74A388.2 388.2 0 0 0 846.83 874.98Z" fill="#f8d2d6"/>
<path d="M846.83 874.98A388.2 388.2 0 0 1 833.99 885.74L805.26 849.95A342.3 342.3 0 0 0 816.58 840.46Z" fill="#f5bfc5"/>
<path d="M816.58 840.46A342.3 342.3 0 0 1 805.26 849.95L776.53 814.15A296.4 296.4 0 0 0 786.33 805.93Z" fill="#f5bfc5"/>
<path d="M786.33 805.93A296.4 296.4 0 0 1 776.53 814.15L747.8 778.36A250.5 250.5 0 0 0 756.08 771.41Z" fill="#f5bfc5"/>
<path d="M756.08 771.41A250.5 250.5 0 0 1 747.8 778.36L719.07 742.56A204.6 204.6 0 0 0 725.83 736.89Z" fill="#fadadd"/>
<path d="M891.46 957.33A480 480 0 0 1 875.03 969.95L847.87 932.94A434.1 434.1 0 0 0 862.72 921.54Z" fill="#fdeef0"/>
<path d="M862.72 921.54A434.1 434.1 0 0 1 847.87 932.94L820.71 895.94A388.2 388.2 0 0 0 833.99 885.74Z" fill="#fcebec"/>
<path d="M833.99 885.74A388.2 388.2 0 0 1 820.71 895.94L793.55 858.94A342.3 342.3 0 0 0 805.26 849.95Z" fill="#ed97a2"/>
<path d="M805.26 849.95A342.3 342.3 0 0 1 793.55 858.94L766.39 821.94A296.4 296.4 0 0 0 776.53 814.15Z" fill="#f2b2ba"/>
<path d="M776.53 814.15A296.4 296.4 0 0 1 766.39 821.94L739.23 784.94A250.5 250.5 0 0 0 747.8 778.36Z" fill="#f5bfc5"/>
<path d="M747.8 778.36A250.5 250.5 0 0 1 739.23 784.94L712.07 747.94A204.6 204.6 0 0 0 719.07 742.56Z" fill="#fadadd"/>
<path d="M875.03 969.95A480 480 0 0 1 858.07 981.84L832.54 943.7A434.1 434.1 0 0 0 847.87 932.94Z" fill="#fffcfc"/>
<path d="M847.87 932.94A434.1 434.1 0 0 1 832.54 943.7L807 905.56A388.2 388.2 0 0 0 820.71 895.94Z" fill="#fcebec"/>
<path d="M820.71 895.94A388.2 388.2 0 0 1 807 905.56L781.46 867.42A342.3 342.3 0 0 0 793.55 858.94Z" fill="#ed97a2"/>
<path d="M793.55 858.94A342.3 342.3 0 0 1 781.46 867.42L755.92 829.28A296.4 296.4 0 0 0 766.39 821.94Z" fill="#f2b2ba"/>
<path d="M766.39 821.94A296.4 296.4 0 0 1 755.92 829.28L730.38 791.14A250.5 250.5 0 0 0 739.23 784.94Z" fill="#f7cdd1"/>
<path d="M739.23 784.94A250.5 250.5 0 0 1 730.38 791.14L704.84 753A204.6 204.6 0 0 0 712.07 747.94Z" fill="#fbe1e3"/>
<path d="M858.07 981.84A480 480 0 0 1 840.62 992.99L816.75 953.78A434.1 434.1 0 0 0 832.54 943.7Z" fill="#fadadd"/>
<path d="M832.54 943.7A434.1 434.1 0 0 1 816.75 953.78L792.88 914.58A388.2 388.2 0 0 0 807 905.56Z" fill="#fadadd"/>
<path d="M807 905.56A388.2 388.2 0 0 1 792.88 914.58L769.01 875.37A342.3 342.3 0 0 0 781.46 867.42Z" fill="#efa5ae"/>
<path d="M781.46 867.42A342.3 342.3 0 0 1 769.01 875.37L745.14 836.17A296.4 296.4 0 0 0 755.92 829.28Z" fill="#f5bfc5"/>
<path d="M755.92 829.28A296.4 296.4 0 0 1 745.14 836.17L721.27 796.96A250.5 250.5 0 0 0 730.38 791.14Z" fill="#f7cdd1"/>
<path d="M730.38 791.14A250.5 250.5 0 0 1 721.27 796.96L697.4 757.76A204.6 204.6 0 0 0 704.84 753Z" fill="#fbe1e3"/>
<path d="M840.62 992.99A480 480 0 0 1 822.71 1003.37L800.55 963.17A434.1 434.1 0 0 0 816.75 953.78Z" fill="#fdeef0"/>
<path d="M816.75 953.78A434.1 434.1 0 0 1 800.55 963.17L778.39 922.98A388.2 388.2 0 0 0 792.88 914.58Z" fill="#f4bac1"/>
<path d="M792.88 914.58A388.2 388.2 0 0 1 778.39 922.98L756.23 882.78A342.3 342.3 0 0 0 769.01 875.37Z" fill="#ed97a2"/>
<path d="M769.01 875.37A342.3 342.3 0 0 1 756.23 882.78L734.08 842.58A296.4 296.4 0 0 0 745.14 836.17Z" fill="#f7cdd1"/>
<path d="M745.14 836.17A296.4 296.4 0 0 1 734.08 842.58L711.92 802.38A250.5 250.5 0 0 0 721.27 796.96Z" fill="#f8d2d6"/>
<path d="M721.27 796.96A250.5 250.5 0 0 1 711.92 802.38L689.76 762.18A204.6 204.6 0 0 0 697.4 757.76Z" fill="#fbe1e3"/>
<path d="M822.71 1003.37A480 480 0 0 1 804.36 1012.98L783.95 971.86A434.1 434.1 0 0 0 800.55 963.17Z" fill="#a1d0ef"/>
<path d="M800.55 963.17A434.1 434.1 0 0 1 783.95 971.86L763.55 930.74A388.2 388.2 0 0 0 778.39 922.98Z" fill="#e15663"/>
<path d="M778.39 922.98A388.2 388.2 0 0 1 763.55 930.74L743.15 889.63A342.3 342.3 0 0 0 756.23 882.78Z" fill="#ed97a2"/>
<path d="M756.23 882.78A342.3 342.3 0 0 1 743.15 889.63L722.75 848.51A296.4 296.4 0 0 0 734.08 842.58Z" fill="#94c9ec"/>
<path d="M734.08 842.58A296.4 296.4 0 0 1 722.75 848.51L702.35 807.39A250.5 250.5 0 0 0 711.92 802.38Z" fill="#3a90cf"/>
<path d="M711.92 802.38A250.5 250.5 0 0 1 702.35 807.39L681.94 766.28A204.6 204.6 0 0 0 689.76 762.18Z" fill="#3a90cf"/>
<path d="M804.36 1012.98A480 480 0 0 1 785.61 1021.78L767 979.82A434.1 434.1 0 0 0 783.95 971.86Z" fill="#f1f8fd"/>
<path d="M783.95 971.86A434.1 434.1 0 0 1 767 979.82L748.39 937.86A388.2 388.2 0 0 0 763.55 930.74Z" fill="#ed97a2"/>
<path d="M763.55 930.74A388.2 388.2 0 0 1 748.39 937.86L729.78 895.9A342.3 342.3 0 0 0 743.15 889.63Z" fill="#aed6f2"/>
<path d="M743.15 889.63A342.3 342.3 0 0 1 729.78 895.9L711.17 853.95A296.4 296.4 0 0 0 722.75 848.51Z" fill="#3a90cf"/>
<path d="M722.75 848.51A296.4 296.4 0 0 1 711.17 853.95L692.56 811.99A250.5 250.5 0 0 0 702.35 807.39Z" fill="#3a95d3"/>
<path d="M702.35 807.39A250.5 250.5 0 0 1 692.56 811.99L673.95 770.03A204.6 204.6 0 0 0 681.94 766.28Z" fill="#3a90cf"/>
<path d="M785.61 1021.78A480 480 0 0 1 766.5 1029.76L749.72 987.04A434.1 434.1 0 0 0 767 979.82Z" fill="#f2b2ba"/>
<path d="M767 979.82A434.1 434.1 0 0 1 749.72 987.04L732.94 944.32A388.2 388.2 0 0 0 748.39 937.86Z" fill="#eb8f9b"/>
<path d="M748.39 937.86A388.2 388.2 0 0 1 732.94 944.32L716.16 901.6A342.3 342.3 0 0 0 729.78 895.9Z" fill="#78bce7"/>
<path d="M729.78 895.9A342.3 342.3 0 0 1 716.16 901.6L699.37 858.88A296.4 296.4 0 0 0 711.17 853.95Z" fill="#4aa0d9"/>
<path d="M711.17 853.95A296.4 296.4 0 0 1 699.37 858.88L682.59 816.16A250.5 250.5 0 0 0 692.56 811.99Z" fill="#3a90cf"/>
<path d="M692.56 811.99A250.5 250.5 0 0 1 682.59 816.16L665.81 773.43A204.6 204.6 0 0 0 673.95 770.03Z" fill="#3a90cf"/>
<path d="M766.5 1029.76A480 480 0 0 1 747.07 1036.92L732.15 993.51A434.1 434.1 0 0 0 749.72 987.04Z" fill="#fcebec"/>
<path d="M749.72 987.04A434.1 434.1 0 0 1 732.15 993.51L717.22 950.11A388.2 388.2 0 0 0 732.94 944.32Z" fill="#f2b2ba"/>
<path d="M732.94 944.32A388.2 388.2 0 0 1 717.22 950.11L702.3 906.7A342.3 342.3 0 0 0 716.16 901.6Z" fill="#6bb5e4"/>
<path d="M716.16 901.6A342.3 342.3 0 0 1 702.3 906.7L687.37 863.29A296.4 296.4 0 0 0 699.37 858.88Z" fill="#52a5dc"/>
<path d="M699.37 858.88A296.4 296.4 0 0 1 687.37 863.29L672.45 819.89A250.5 250.5 0 0 0 682.59 816.16Z" fill="#3a90cf"/>
<path d="M682.59 816.16A250.5 250.5 0 0 1 672.45 819.89L657.52 776.48A204.6 204.6 0 0 0 665.81 773.43Z" fill="#3a90cf"/>
<path d="M747.07 1036.92A480 480 0 0 1 727.35 1043.23L714.31 999.22A434.1 434.1 0 0 0 732.15 993.51Z" fill="#f8fbfe"/>
<path d="M732.15 993.51A434.1 434.1 0 0 1 714.31 999.22L701.27 955.21A388.2 388.2 0 0 0 717.22 950.11Z" fill="#fbfdfe"/>
<path d="M717.22 950.11A388.2 388.2 0 0 1 701.27 955.21L688.23 911.2A342.3 342.3 0 0 0 702.3 906.7Z" fill="#fdf2f3"/>
<path d="M702.3 906.7A342.3 342.3 0 0 1 688.23 911.2L675.19 867.19A296.4 296.4 0 0 0 687.37 863.29Z" fill="#4aa0d9"/>
<path d="M687.37 863.29A296.4 296.4 0 0 1 675.19 867.19L662.16 823.18A250.5 250.5 0 0 0 672.45 819.89Z" fill="#3a95d3"/>
<path d="M672.45 819.89A250.5 250.5 0 0 1 662.16 823.18L649.12 779.17A204.6 204.6 0 0 0 657.52 776.48Z" fill="#3a90cf"/>
<path d="M727.35 1043.23A480 480 0 0 1 707.37 1048.68L696.24 1004.15A434.1 434.1 0 0 0 714.31 999.22Z" fill="#eaf4fc"/>
<path d="M714.31 999.22A434.1 434.1 0 0 1 696.24 1004.15L685.11 959.62A388.2 388.2 0 0 0 701.27 955.21Z" fill="#f2b2ba"/>
<path d="M701.27 955.21A388.2 388.2 0 0 1 685.11 959.62L673.98 915.09A342.3 342.3 0 0 0 688.23 911.2Z" fill="#aed6f2"/>
<path d="M688.23 911.2A342.3 342.3 0 0 1 673.98 915.09L662.86 870.56A296.4 296.4 0 0 0 675.19 867.19Z" fill="#86c2ea"/>
<path d="M675.19 867.19A296.4 296.4 0 0 1 662.86 870.56L651.73 826.03A250.5 250.5 0 0 0 662.16 823.18Z" fill="#3a90cf"/>
<path d="M662.16 823.18A250.5 250.5 0 0 1 651.73 826.03L640.6 781.5A204.6 204.6 0 0 0 649.12 779.17Z" fill="#3a90cf"/>
<path d="M707.37 1048.68A480 480 0 0 1 687.17 1053.27L677.98 1008.3A434.1 434.1 0 0 0 696.24 1004.15Z" fill="#fcebec"/>
<path d="M696.24 1004.15A434.1 434.1 0 0 1 677.98 1008.3L668.78 963.33A388.2 388.2 0 0 0 685.11 959.62Z" fill="#f5bfc5"/>
<path d="M685.11 959.62A388.2 388.2 0 0 1 668.78 963.33L659.58 918.36A342.3 342.3 0 0 0 673.98 915.09Z" fill="#fcebec"/>
<path d="M673.98 915.09A342.3 342.3 0 0 1 659.58 918.36L650.39 873.39A296.4 296.4 0 0 0 662.86 870.56Z" fill="#6bb5e4"/>
<path d="M662.86 870.56A296.4 296.4 0 0 1 650.39 873.39L641.19 828.42A250.5 250.5 0 0 0 651.73 826.03Z" fill="#429ad6"/>
<path d="M651.73 826.03A250.5 250.5 0 0 1 641.19 828.42L631.99 783.45A204.6 204.6 0 0 0 640.6 781.5Z" fill="#3a90cf"/>
<path d="M687.17 1053.27A480 480 0 0 1 666.8 1056.98L659.55 1011.65A434.1 434.1 0 0 0 677.98 1008.3Z" fill="#6bb5e4"/>
<path d="M677.98 1008.3A434.1 434.1 0 0 1 659.55 1011.65L652.3 966.33A388.2 388.2 0 0 0 668.78 963.33Z" fill="#94c9ec"/>
<path d="M668.78 963.33A388.2 388.2 0 0 1 652.3 966.33L645.05 921.01A342.3 342.3 0 0 0 659.58 918.36Z" fill="#f7cdd1"/>
<path d="M659.58 918.36A342.3 342.3 0 0 1 645.05 921.01L637.81 875.68A296.4 296.4 0 0 0 650.39 873.39Z" fill="#52a5dc"/>
<path d="M650.39 873.39A296.4 296.4 0 0 1 637.81 875.68L630.56 830.36A250.5 250.5 0 0 0 641.19 828.42Z" fill="#429ad6"/>
<path d="M641.19 828.42A250.5 250.5 0 0 1 630.56 830.36L623.31 785.03A204.6 204.6 0 0 0 631.99 783.45Z" fill="#3a90cf"/>
<path d="M666.8 1056.98A480 480 0 0 1 646.28 1059.81L641 1014.21A434.1 434.1 0 0 0 659.55 1011.65Z" fill="#9ccdee"/>
<path d="M659.55 1011.65A434.1 434.1 0 0 1 641 1014.21L635.71 968.62A388.2 388.2 0 0 0 652.3 966.33Z" fill="#b4d9f3"/>
<path d="M652.3 966.33A388.2 388.2 0 0 1 635.71 968.62L630.42 923.02A342.3 342.3 0 0 0 645.05 921.01Z" fill="#ed97a2"/>
<path d="M645.05 921.01A342.3 342.3 0 0 1 630.42 923.02L625.14 877.43A296.4 296.4 0 0 0 637.81 875.68Z" fill="#4aa0d9"/>
<path d="M637.81 875.68A296.4 296.4 0 0 1 625.14 877.43L619.85 831.83A250.5 250.5 0 0 0 630.56 830.36Z" fill="#3a90cf"/>
<path d="M630.56 830.36A250.5 250.5 0 0 1 619.85 831.83L614.56 786.24A204.6 204.6 0 0 0 623.31 785.03Z" fill="#3a90cf"/>
<path d="M646.28 1059.81A480 480 0 0 1 625.66 1061.75L622.35 1015.97A434.1 434.1 0 0 0 641 1014.21Z" fill="#3a95d3"/>
<path d="M641 1014.21A434.1 434.1 0 0 1 622.35 1015.97L619.03 970.19A388.2 388.2 0 0 0 635.71 968.62Z" fill="#b4d9f3"/>
<path d="M635.71 968.62A388.2 388.2 0 0 1 619.03 970.19L615.72 924.41A342.3 342.3 0 0 0 630.42 923.02Z" fill="#d8ebf9"/>
<path d="M630.42 923.02A342.3 342.3 0 0 1 615.72 924.41L612.41 878.63A296.4 296.4 0 0 0 625.14 877.43Z" fill="#3a95d3"/>
<path d="M625.14 877.43A296.4 296.4 0 0 1 612.41 878.63L609.09 832.85A250.5 250.5 0 0 0 619.85 831.83Z" fill="#3a90cf"/>
<path d="M619.85 831.83A250.5 250.5 0 0 1 609.09 832.85L605.78 787.07A204.6 204.6 0 0 0 614.56 786.24Z" fill="#3a90cf"/>
<path d="M625.66 1061.75A480 480 0 0 1 604.98 1062.8L603.64 1016.92A434.1 434.1 0 0 0 622.35 1015.97Z" fill="#3a90cf"/>
<path d="M622.35 1015.97A434.1 434.1 0 0 1 603.64 1016.92L602.31 971.04A388.2 388.2 0 0 0 619.03 970.19Z" fill="#63b0e1"/>
<path d="M619.03 970.19A388.2 388.2 0 0 1 602.31 971.04L600.97 925.15A342.3 342.3 0 0 0 615.72 924.41Z" fill="#d8ebf9"/>
<path d="M615.72 924.41A342.3 342.3 0 0 1 600.97 925.15L599.63 879.27A296.4 296.4 0 0 0 612.41 878.63Z" fill="#3a95d3"/>
<path d="M612.41 878.63A296.4 296.4 0 0 1 599.63 879.27L598.3 833.39A250.5 250.5 0 0 0 609.09 832.85Z" fill="#3a95d3"/>
<path d="M609.09 832.85A250.5 250.5 0 0 1 598.3 833.39L596.96 787.51A204.6 204.6 0 0 0 605.78 787.07Z" fill="#3a90cf"/>
<path d="M604.98 1062.8A480 480 0 0 1 584.27 1062.95L584.92 1017.06A434.1 434.1 0 0 0 603.64 1016.92Z" fill="#4aa0d9"/>
<path d="M603.64 1016.92A434.1 434.1 0 0 1 584.92 1017.06L585.56 971.16A388.2 388.2 0 0 0 602.31 971.04Z" fill="#6bb5e4"/>
<path d="M602.31 971.04A388.2 388.2 0 0 1 585.56 971.16L586.2 925.27A342.3 342.3 0 0 0 600.97 925.15Z" fill="#f4bac1"/>
<path d="M600.97 925.15A342.3 342.3 0 0 1 586.2 925.27L586.85 879.37A296.4 296.4 0 0 0 599.63 879.27Z" fill="#63b0e1"/>
<path d="M599.63 879.27A296.4 296.4 0 0 1 586.85 879.37L587.49 833.48A250.5 250.5 0 0 0 598.3 833.39Z" fill="#429ad6"/>
<path d="M598.3 833.39A250.5 250.5 0 0 1 587.49 833.48L588.13 787.58A204.6 204.6 0 0 0 596.96 787.51Z" fill="#3a95d3"/>
<path d="M584.27 1062.95A480 480 0 0 1 563.58 1062.22L566.2 1016.39A434.1 434.1 0 0 0 584.92 1017.06Z" fill="#3a90cf"/>
<path d="M584.92 1017.06A434.1 434.1 0 0 1 566.2 1016.39L568.82 970.57A388.2 388.2 0 0 0 585.56 971.16Z" fill="#6bb5e4"/>
<path d="M585.56 971.16A388.2 388.2 0 0 1 568.82 970.57L571.44 924.74A342.3 342.3 0 0 0 586.2 925.27Z" fill="#f5bfc5"/>
<path d="M586.2 925.27A342.3 342.3 0 0 1 571.44 924.74L574.07 878.92A296.4 296.4 0 0 0 586.85 879.37Z" fill="#78bce7"/>
<path d="M586.85 879.37A296.4 296.4 0 0 1 574.07 878.92L576.69 833.09A250.5 250.5 0 0 0 587.49 833.48Z" fill="#429ad6"/>
<path d="M587.49 833.48A250.5 250.5 0 0 1 576.69 833.09L579.31 787.27A204.6 204.6 0 0 0 588.13 787.58Z" fill="#3a95d3"/>
<path d="M563.58 1062.22A480 480 0 0 1 542.93 1060.59L547.53 1014.92A434.1 434.1 0 0 0 566.2 1016.39Z" fill="#3a90cf"/>
<path d="M566.2 1016.39A434.1 434.1 0 0 1 547.53 1014.92L552.12 969.25A388.2 388.2 0 0 0 568.82 970.57Z" fill="#d8ebf9"/>
<path d="M568.82 970.57A388.2 388.2 0 0 1 552.12 969.25L556.72 923.58A342.3 342.3 0 0 0 571.44 924.74Z" fill="#c7e2f7"/>
<path d="M571.44 924.74A342.3 342.3 0 0 1 556.72 923.58L561.32 877.91A296.4 296.4 0 0 0 574.07 878.92Z" fill="#5baade"/>
<path d="M574.07 878.92A296.4 296.4 0 0 1 561.32 877.91L565.91 832.24A250.5 250.5 0 0 0 576.69 833.09Z" fill="#429ad6"/>
<path d="M576.69 833.09A250.5 250.5 0 0 1 565.91 832.24L570.51 786.57A204.6 204.6 0 0 0 579.31 787.27Z" fill="#3a95d3"/>
<path d="M542.93 1060.59A480 480 0 0 1 522.38 1058.07L528.94 1012.64A434.1 434.1 0 0 0 547.53 1014.92Z" fill="#3a90cf"/>
<path d="M547.53 1014.92A434.1 434.1 0 0 1 528.94 1012.64L535.5 967.21A388.2 388.2 0 0 0 552.12 969.25Z" fill="#c7e2f7"/>
<path d="M552.12 969.25A388.2 388.2 0 0 1 535.5 967.21L542.06 921.78A342.3 342.3 0 0 0 556.72 923.58Z" fill="#f5bfc5"/>
<path d="M556.72 923.58A342.3 342.3 0 0 1 542.06 921.78L548.62 876.36A296.4 296.4 0 0 0 561.32 877.91Z" fill="#86c2ea"/>
<path d="M561.32 877.91A296.4 296.4 0 0 1 548.62 876.36L555.19 830.93A250.5 250.5 0 0 0 565.91 832.24Z" fill="#3a95d3"/>
<path d="M565.91 832.24A250.5 250.5 0 0 1 555.19 830.93L561.75 785.5A204.6 204.6 0 0 0 570.51 786.57Z" fill="#3a95d3"/>
<path d="M522.38 1058.07A480 480 0 0 1 501.95 1054.67L510.46 1009.56A434.1 434.1 0 0 0 528.94 1012.64Z" fill="#3a90cf"/>
<path d="M528.94 1012.64A434.1 434.1 0 0 1 510.46 1009.56L518.98 964.46A388.2 388.2 0 0 0 535.5 967.21Z" fill="#6bb5e4"/>
<path d="M535.5 967.21A388.2 388.2 0 0 1 518.98 964.46L527.49 919.36A342.3 342.3 0 0 0 542.06 921.78Z" fill="#3a95d3"/>
<path d="M542.06 921.78A342.3 342.3 0 0 1 527.49 919.36L536.01 874.25A296.4 296.4 0 0 0 548.62 876.36Z" fill="#3a90cf"/>
<path d="M548.62 876.36A296.4 296.4 0 0 1 536.01 874.25L544.53 829.15A250.5 250.5 0 0 0 555.19 830.93Z" fill="#3a90cf"/>
<path d="M555.19 830.93A250.5 250.5 0 0 1 544.53 829.15L553.04 784.05A204.6 204.6 0 0 0 561.75 785.5Z" fill="#3a90cf"/>
<path d="M501.95 1054.67A480 480 0 0 1 481.69 1050.39L492.14 1005.69A434.1 434.1 0 0 0 510.46 1009.56Z" fill="#3a90cf"/>
<path d="M510.46 1009.56A434.1 434.1 0 0 1 492.14 1005.69L502.59 961A388.2 388.2 0 0 0 518.98 964.46Z" fill="#86c2ea"/>
<path d="M518.98 964.46A388.2 388.2 0 0 1 502.59 961L513.05 916.31A342.3 342.3 0 0 0 527.49 919.36Z" fill="#429ad6"/>
<path d="M527.49 919.36A342.3 342.3 0 0 1 513.05 916.31L523.5 871.61A296.4 296.4 0 0 0 536.01 874.25Z" fill="#3a95d3"/>
<path d="M536.01 874.25A296.4 296.4 0 0 1 523.5 871.61L533.95 826.92A250.5 250.5 0 0 0 544.53 829.15Z" fill="#3a90cf"/>
<path d="M544.53 829.15A250.5 250.5 0 0 1 533.95 826.92L544.4 782.22A204.6 204.6 0 0 0 553.04 784.05Z" fill="#3a90cf"/>
<path d="M481.69 1050.39A480 480 0 0 1 461.63 1045.24L474 1001.04A434.1 434.1 0 0 0 492.14 1005.69Z" fill="#94c9ec"/>
<path d="M492.14 1005.69A434.1 434.1 0 0 1 474 1001.04L486.37 956.83A388.2 388.2 0 0 0 502.59 961Z" fill="#bcddf5"/>
<path d="M502.59 961A388.2 388.2 0 0 1 486.37 956.83L498.74 912.63A342.3 342.3 0 0 0 513.05 916.31Z" fill="#5baade"/>
<path d="M513.05 916.31A342.3 342.3 0 0 1 498.74 912.63L511.11 868.43A296.4 296.4 0 0 0 523.5 871.61Z" fill="#4aa0d9"/>
<path d="M523.5 871.61A296.4 296.4 0 0 1 511.11 868.43L523.48 824.23A250.5 250.5 0 0 0 533.95 826.92Z" fill="#3a90cf"/>
<path d="M533.95 826.92A250.5 250.5 0 0 1 523.48 824.23L535.85 780.03A204.6 204.6 0 0 0 544.4 782.22Z" fill="#3a90cf"/>
<path d="M461.63 1045.24A480 480 0 0 1 441.81 1039.23L456.08 995.6A434.1 434.1 0 0 0 474 1001.04Z" fill="#5baade"/>
<path d="M474 1001.04A434.1 434.1 0 0 1 456.08 995.6L470.34 951.97A388.2 388.2 0 0 0 486.37 956.83Z" fill="#86c2ea"/>
<path d="M486.37 956.83A388.2 388.2 0 0 1 470.34 951.97L484.61 908.35A342.3 342.3 0 0 0 498.74 912.63Z" fill="#4aa0d9"/>
<path d="M498.74 912.63A342.3 342.3 0 0 1 484.61 908.35L498.87 864.72A296.4 296.4 0 0 0 511.11 868.43Z" fill="#3a95d3"/>
<path d="M511.11 868.43A296.4 296.4 0 0 1 498.87 864.72L513.14 821.09A250.5 250.5 0 0 0 523.48 824.23Z" fill="#3a95d3"/>
<path d="M523.48 824.23A250.5 250.5 0 0 1 513.14 821.09L527.41 777.47A204.6 204.6 0 0 0 535.85 780.03Z" fill="#3a90cf"/>
<path d="M441.81 1039.23A480 480 0 0 1 422.27 1032.37L438.4 989.4A434.1 434.1 0 0 0 456.08 995.6Z" fill="#4aa0d9"/>
<path d="M456.08 995.6A434.1 434.1 0 0 1 438.4 989.4L454.54 946.42A388.2 388.2 0 0 0 470.34 951.97Z" fill="#6bb5e4"/>
<path d="M470.34 951.97A388.2 388.2 0 0 1 454.54 946.42L470.67 903.45A342.3 342.3 0 0 0 484.61 908.35Z" fill="#429ad6"/>
<path d="M484.61 908.35A342.3 342.3 0 0 1 470.67 903.45L486.81 860.48A296.4 296.4 0 0 0 498.87 864.72Z" fill="#3a95d3"/>
<path d="M498.87 864.72A296.4 296.4 0 0 1 486.81 860.48L502.94 817.51A250.5 250.5 0 0 0 513.14 821.09Z" fill="#3a95d3"/>
<path d="M513.14 821.09A250.5 250.5 0 0 1 502.94 817.51L519.08 774.54A204.6 204.6 0 0 0 527.41 777.47Z" fill="#3a95d3"/>
<path d="M422.27 1032.37A480 480 0 0 1 403.04 1024.67L421.02 982.44A434.1 434.1 0 0 0 438.4 989.4Z" fill="#3a95d3"/>
<path d="M438.4 989.4A434.1 434.1 0 0 1 421.02 982.44L438.99 940.2A388.2 388.2 0 0 0 454.54 946.42Z" fill="#6bb5e4"/>
<path d="M454.54 946.42A388.2 388.2 0 0 1 438.99 940.2L456.96 897.97A342.3 342.3 0 0 0 470.67 903.45Z" fill="#efa5ae"/>
<path d="M470.67 903.45A342.3 342.3 0 0 1 456.96 897.97L474.94 855.73A296.4 296.4 0 0 0 486.81 860.48Z" fill="#f2b2ba"/>
<path d="M486.81 860.48A296.4 296.4 0 0 1 474.94 855.73L492.91 813.5A250.5 250.5 0 0 0 502.94 817.51Z" fill="#fffcfc"/>
<path d="M502.94 817.51A250.5 250.5 0 0 1 492.91 813.5L510.88 771.26A204.6 204.6 0 0 0 519.08 774.54Z" fill="#cee6f8"/>
<path d="M403.04 1024.67A480 480 0 0 1 384.17 1016.15L403.95 974.73A434.1 434.1 0 0 0 421.02 982.44Z" fill="#3a90cf"/>
<path d="M421.02 982.44A434.1 434.1 0 0 1 403.95 974.73L423.72 933.31A388.2 388.2 0 0 0 438.99 940.2Z" fill="#78bce7"/>
<path d="M438.99 940.2A388.2 388.2 0 0 1 423.72 933.31L443.5 891.89A342.3 342.3 0 0 0 456.96 897.97Z" fill="#ee9fa9"/>
<path d="M456.96 897.97A342.3 342.3 0 0 1 443.5 891.89L463.28 850.47A296.4 296.4 0 0 0 474.94 855.73Z" fill="#fce7e9"/>
<path d="M474.94 855.73A296.4 296.4 0 0 1 463.28 850.47L483.06 809.05A250.5 250.5 0 0 0 492.91 813.5Z" fill="#fdf2f3"/>
<path d="M492.91 813.5A250.5 250.5 0 0 1 483.06 809.05L502.84 767.63A204.6 204.6 0 0 0 510.88 771.26Z" fill="#b4d9f3"/>
<path d="M384.17 1016.15A480 480 0 0 1 365.68 1006.83L387.22 966.3A434.1 434.1 0 0 0 403.95 974.73Z" fill="#3a95d3"/>
<path d="M403.95 974.73A434.1 434.1 0 0 1 387.22 966.3L408.77 925.77A388.2 388.2 0 0 0 423.72 933.31Z" fill="#6bb5e4"/>
<path d="M423.72 933.31A388.2 388.2 0 0 1 408.77 925.77L430.32 885.24A342.3 342.3 0 0 0 443.5 891.89Z" fill="#f7cdd1"/>
<path d="M443.5 891.89A342.3 342.3 0 0 1 430.32 885.24L451.86 844.71A296.4 296.4 0 0 0 463.28 850.47Z" fill="#f1f8fd"/>
<path d="M463.28 850.47A296.4 296.4 0 0 1 451.86 844.71L473.41 804.18A250.5 250.5 0 0 0 483.06 809.05Z" fill="#e6f2fb"/>
<path d="M483.06 809.05A250.5 250.5 0 0 1 473.41 804.18L494.96 763.66A204.6 204.6 0 0 0 502.84 767.63Z" fill="#d8ebf9"/>
<path d="M365.68 1006.83A480 480 0 0 1 347.6 996.71L370.88 957.15A434.1 434.1 0 0 0 387.22 966.3Z" fill="#3a95d3"/>
<path d="M387.22 966.3A434.1 434.1 0 0 1 370.88 957.15L394.15 917.59A388.2 388.2 0 0 0 408.77 925.77Z" fill="#cee6f8"/>
<path d="M408.77 925.77A388.2 388.2 0 0 1 394.15 917.59L417.43 878.03A342.3 342.3 0 0 0 430.32 885.24Z" fill="#f5bfc5"/>
<path d="M430.32 885.24A342.3 342.3 0 0 1 417.43 878.03L440.7 838.47A296.4 296.4 0 0 0 451.86 844.71Z" fill="#fadadd"/>
<path d="M451.86 844.71A296.4 296.4 0 0 1 440.7 838.47L463.98 798.91A250.5 250.5 0 0 0 473.41 804.18Z" fill="#9ccdee"/>
<path d="M473.41 804.18A250.5 250.5 0 0 1 463.98 798.91L487.25 759.35A204.6 204.6 0 0 0 494.96 763.66Z" fill="#52a5dc"/>
<path d="M347.6 996.71A480 480 0 0 1 329.99 985.83L354.94 947.31A434.1 434.1 0 0 0 370.88 957.15Z" fill="#3a90cf"/>
<path d="M370.88 957.15A434.1 434.1 0 0 1 354.94 947.31L379.9 908.79A388.2 388.2 0 0 0 394.15 917.59Z" fill="#6bb5e4"/>
<path d="M394.15 917.59A388.2 388.2 0 0 1 379.9 908.79L404.86 870.27A342.3 342.3 0 0 0 417.43 878.03Z" fill="#ea8a96"/>
<path d="M417.43 878.03A342.3 342.3 0 0 1 404.86 870.27L429.82 831.75A296.4 296.4 0 0 0 440.7 838.47Z" fill="#eaf4fc"/>
<path d="M440.7 838.47A296.4 296.4 0 0 1 429.82 831.75L454.78 793.23A250.5 250.5 0 0 0 463.98 798.91Z" fill="#b4d9f3"/>
<path d="M463.98 798.91A250.5 250.5 0 0 1 454.78 793.23L479.74 754.71A204.6 204.6 0 0 0 487.25 759.35Z" fill="#5baade"/>
<path d="M329.99 985.83A480 480 0 0 1 312.85 974.2L339.45 936.79A434.1 434.1 0 0 0 354.94 947.31Z" fill="#429ad6"/>
<path d="M354.94 947.31A434.1 434.1 0 0 1 339.45 936.79L366.05 899.38A388.2 388.2 0 0 0 379.9 908.79Z" fill="#78bce7"/>
<path d="M379.9 908.79A388.2 388.2 0 0 1 366.05 899.38L392.65 861.97A342.3 342.3 0 0 0 404.86 870.27Z" fill="#ed97a2"/>
<path d="M404.86 870.27A342.3 342.3 0 0 1 392.65 861.97L419.24 824.56A296.4 296.4 0 0 0 429.82 831.75Z" fill="#f2b2ba"/>
<path d="M429.82 831.75A296.4 296.4 0 0 1 419.24 824.56L445.84 787.16A250.5 250.5 0 0 0 454.78 793.23Z" fill="#dfeffa"/>
<path d="M454.78 793.23A250.5 250.5 0 0 1 445.84 787.16L472.44 749.75A204.6 204.6 0 0 0 479.74 754.71Z" fill="#6bb5e4"/>
<path d="M312.85 974.2A480 480 0 0 1 296.24 961.83L324.42 925.61A434.1 434.1 0 0 0 339.45 936.79Z" fill="#3a95d3"/>
<path d="M339.45 936.79A434.1 434.1 0 0 1 324.42 925.61L352.61 889.38A388.2 388.2 0 0 0 366.05 899.38Z" fill="#86c2ea"/>
<path d="M366.05 899.38A388.2 388.2 0 0 1 352.61 889.38L380.8 853.16A342.3 342.3 0 0 0 392.65 861.97Z" fill="#efa5ae"/>
<path d="M392.65 861.97A342.3 342.3 0 0 1 380.8 853.16L408.98 816.93A296.4 296.4 0 0 0 419.24 824.56Z" fill="#f4bac1"/>
<path d="M419.24 824.56A296.4 296.4 0 0 1 408.98 816.93L437.17 780.7A250.5 250.5 0 0 0 445.84 787.16Z" fill="#a6d2f0"/>
<path d="M445.84 787.16A250.5 250.5 0 0 1 437.17 780.7L465.36 744.48A204.6 204.6 0 0 0 472.44 749.75Z" fill="#63b0e1"/>
<path d="M296.24 961.83A480 480 0 0 1 280.17 948.77L309.89 913.79A434.1 434.1 0 0 0 324.42 925.61Z" fill="#3a95d3"/>
<path d="M324.42 925.61A434.1 434.1 0 0 1 309.89 913.79L339.62 878.81A388.2 388.2 0 0 0 352.61 889.38Z" fill="#6bb5e4"/>
<path d="M352.61 889.38A388.2 388.2 0 0 1 339.62 878.81L369.34 843.84A342.3 342.3 0 0 0 380.8 853.16Z" fill="#d93741"/>
<path d="M380.8 853.16A342.3 342.3 0 0 1 369.34 843.84L399.06 808.86A296.4 296.4 0 0 0 408.98 816.93Z" fill="#f2b2ba"/>
<path d="M408.98 816.93A296.4 296.4 0 0 1 399.06 808.86L428.79 773.88A250.5 250.5 0 0 0 437.17 780.7Z" fill="#c7e2f7"/>
<path d="M437.17 780.7A250.5 250.5 0 0 1 428.79 773.88L458.51 738.91A204.6 204.6 0 0 0 465.36 744.48Z" fill="#94c9ec"/>
<path d="M280.17 948.77A480 480 0 0 1 264.68 935.02L295.89 901.36A434.1 434.1 0 0 0 309.89 913.79Z" fill="#429ad6"/>
<path d="M309.89 913.79A434.1 434.1 0 0 1 295.89 901.36L327.09 867.7A388.2 388.2 0 0 0 339.62 878.81Z" fill="#d8ebf9"/>
<path d="M339.62 878.81A388.2 388.2 0 0 1 327.09 867.7L358.3 834.03A342.3 342.3 0 0 0 369.34 843.84Z" fill="#eb8f9b"/>
<path d="M369.34 843.84A342.3 342.3 0 0 1 358.3 834.03L389.5 800.37A296.4 296.4 0 0 0 399.06 808.86Z" fill="#ed97a2"/>
<path d="M399.06 808.86A296.4 296.4 0 0 1 389.5 800.37L420.7 766.71A250.5 250.5 0 0 0 428.79 773.88Z" fill="#fadadd"/>
<path d="M428.79 773.88A250.5 250.5 0 0 1 420.7 766.71L451.91 733.05A204.6 204.6 0 0 0 458.51 738.91Z" fill="#a1d0ef"/>
<path d="M264.68 935.02A480 480 0 0 1 249.8 920.62L282.43 888.33A434.1 434.1 0 0 0 295.89 901.36Z" fill="#6bb5e4"/>
<path d="M295.89 901.36A434.1 434.1 0 0 1 282.43 888.33L315.06 856.05A388.2 388.2 0 0 0 327.09 867.7Z" fill="#fdf2f3"/>
<path d="M327.09 867.7A388.2 388.2 0 0 1 315.06 856.05L347.68 823.76A342.3 342.3 0 0 0 358.3 834.03Z" fill="#e36370"/>
<path d="M358.3 834.03A342.3 342.3 0 0 1 347.68 823.76L380.31 791.48A296.4 296.4 0 0 0 389.5 800.37Z" fill="#e5707c"/>
<path d="M389.5 800.37A296.4 296.4 0 0 1 380.31 791.48L412.94 759.19A250.5 250.5 0 0 0 420.7 766.71Z" fill="#f8d2d6"/>
<path d="M420.7 766.71A250.5 250.5 0 0 1 412.94 759.19L445.56 726.91A204.6 204.6 0 0 0 451.91 733.05Z" fill="#cee6f8"/>
<path d="M249.8 920.62A480 480 0 0 1 235.56 905.58L269.55 874.74A434.1 434.1 0 0 0 282.43 888.33Z" fill="#5baade"/>
<path d="M282.43 888.33A434.1 434.1 0 0 1 269.55 874.74L303.54 843.89A388.2 388.2 0 0 0 315.06 856.05Z" fill="#fffcfc"/>
<path d="M315.06 856.05A388.2 388.2 0 0 1 303.54 843.89L337.53 813.04A342.3 342.3 0 0 0 347.68 823.76Z" fill="#e46b77"/>
<path d="M347.68 823.76A342.3 342.3 0 0 1 337.53 813.04L371.51 782.2A296.4 296.4 0 0 0 380.31 791.48Z" fill="#eb8f9b"/>
<path d="M380.31 791.48A296.4 296.4 0 0 1 371.51 782.2L405.5 751.35A250.5 250.5 0 0 0 412.94 759.19Z" fill="#f7cdd1"/>
<path d="M412.94 759.19A250.5 250.5 0 0 1 405.5 751.35L439.49 720.5A204.6 204.6 0 0 0 445.56 726.91Z" fill="#fcebec"/>
<path d="M235.56 905.58A480 480 0 0 1 221.97 889.95L257.26 860.6A434.1 434.1 0 0 0 269.55 874.74Z" fill="#3a90cf"/>
<path d="M269.55 874.74A434.1 434.1 0 0 1 257.26 860.6L292.55 831.25A388.2 388.2 0 0 0 303.54 843.89Z" fill="#5baade"/>
<path d="M303.54 843.89A388.2 388.2 0 0 1 292.55 831.25L327.84 801.9A342.3 342.3 0 0 0 337.53 813.04Z" fill="#fffcfc"/>
<path d="M337.53 813.04A342.3 342.3 0 0 1 327.84 801.9L363.13 772.54A296.4 296.4 0 0 0 371.51 782.2Z" fill="#edf6fc"/>
<path d="M371.51 782.2A296.4 296.4 0 0 1 363.13 772.54L398.41 743.19A250.5 250.5 0 0 0 405.5 751.35Z" fill="#5baade"/>
<path d="M405.5 751.35A250.5 250.5 0 0 1 398.41 743.19L433.7 713.84A204.6 204.6 0 0 0 439.49 720.5Z" fill="#3a95d3"/>
<path d="M221.97 889.95A480 480 0 0 1 209.08 873.75L245.6 845.95A434.1 434.1 0 0 0 257.26 860.6Z" fill="#3a95d3"/>
<path d="M257.26 860.6A434.1 434.1 0 0 1 245.6 845.95L282.12 818.14A388.2 388.2 0 0 0 292.55 831.25Z" fill="#6bb5e4"/>
<path d="M292.55 831.25A388.2 388.2 0 0 1 282.12 818.14L318.64 790.34A342.3 342.3 0 0 0 327.84 801.9Z" fill="#f2b2ba"/>
<path d="M327.84 801.9A342.3 342.3 0 0 1 318.64 790.34L355.16 762.54A296.4 296.4 0 0 0 363.13 772.54Z" fill="#c7e2f7"/>
<path d="M363.13 772.54A296.4 296.4 0 0 1 355.16 762.54L391.68 734.73A250.5 250.5 0 0 0 398.41 743.19Z" fill="#63b0e1"/>
<path d="M398.41 743.19A250.5 250.5 0 0 1 391.68 734.73L428.21 706.93A204.6 204.6 0 0 0 433.7 713.84Z" fill="#a1d0ef"/>
<path d="M209.08 873.75A480 480 0 0 1 196.89 857L234.58 830.8A434.1 434.1 0 0 0 245.6 845.95Z" fill="#4aa0d9"/>
<path d="M245.6 845.95A434.1 434.1 0 0 1 234.58 830.8L272.26 804.6A388.2 388.2 0 0 0 282.12 818.14Z" fill="#6bb5e4"/>
<path d="M282.12 818.14A388.2 388.2 0 0 1 272.26 804.6L309.95 778.4A342.3 342.3 0 0 0 318.64 790.34Z" fill="#f0aab2"/>
<path d="M318.64 790.34A342.3 342.3 0 0 1 309.95 778.4L347.64 752.2A296.4 296.4 0 0 0 355.16 762.54Z" fill="#94c9ec"/>
<path d="M355.16 762.54A296.4 296.4 0 0 1 347.64 752.2L385.32 726A250.5 250.5 0 0 0 391.68 734.73Z" fill="#6bb5e4"/>
<path d="M391.68 734.73A250.5 250.5 0 0 1 385.32 726L423.01 699.79A204.6 204.6 0 0 0 428.21 706.93Z" fill="#4aa0d9"/>
<path d="M196.89 857A480 480 0 0 1 185.44 839.75L224.22 815.2A434.1 434.1 0 0 0 234.58 830.8Z" fill="#4aa0d9"/>
<path d="M234.58 830.8A434.1 434.1 0 0 1 224.22 815.2L263 790.65A388.2 388.2 0 0 0 272.26 804.6Z" fill="#63b0e1"/>
<path d="M272.26 804.6A388.2 388.2 0 0 1 263 790.65L301.78 766.09A342.3 342.3 0 0 0 309.95 778.4Z" fill="#ed97a2"/>
<path d="M309.95 778.4A342.3 342.3 0 0 1 301.78 766.09L340.57 741.54A296.4 296.4 0 0 0 347.64 752.2Z" fill="#d8ebf9"/>
<path d="M347.64 752.2A296.4 296.4 0 0 1 340.57 741.54L379.35 716.99A250.5 250.5 0 0 0 385.32 726Z" fill="#6bb5e4"/>
<path d="M385.32 726A250.5 250.5 0 0 1 379.35 716.99L418.13 692.44A204.6 204.6 0 0 0 423.01 699.79Z" fill="#4aa0d9"/>
<path d="M185.44 839.75A480 480 0 0 1 174.74 822.02L214.55 799.16A434.1 434.1 0 0 0 224.22 815.2Z" fill="#4aa0d9"/>
<path d="M224.22 815.2A434.1 434.1 0 0 1 214.55 799.16L254.35 776.31A388.2 388.2 0 0 0 263 790.65Z" fill="#86c2ea"/>
<path d="M263 790.65A388.2 388.2 0 0 1 254.35 776.31L294.16 753.45A342.3 342.3 0 0 0 301.78 766.09Z" fill="#f6c5ca"/>
<path d="M301.78 766.09A342.3 342.3 0 0 1 294.16 753.45L333.96 730.59A296.4 296.4 0 0 0 340.57 741.54Z" fill="#cee6f8"/>
<path d="M340.57 741.54A296.4 296.4 0 0 1 333.96 730.59L373.77 707.74A250.5 250.5 0 0 0 379.35 716.99Z" fill="#6bb5e4"/>
<path d="M379.35 716.99A250.5 250.5 0 0 1 373.77 707.74L413.57 684.88A204.6 204.6 0 0 0 418.13 692.44Z" fill="#4aa0d9"/>
<path d="M174.74 822.02A480 480 0 0 1 164.82 803.84L205.57 782.72A434.1 434.1 0 0 0 214.55 799.16Z" fill="#52a5dc"/>
<path d="M214.55 799.16A434.1 434.1 0 0 1 205.57 782.72L246.33 761.6A388.2 388.2 0 0 0 254.35 776.31Z" fill="#aed6f2"/>
<path d="M254.35 776.31A388.2 388.2 0 0 1 246.33 761.6L287.08 740.49A342.3 342.3 0 0 0 294.16 753.45Z" fill="#eb8f9b"/>
<path d="M294.16 753.45A342.3 342.3 0 0 1 287.08 740.49L327.83 719.37A296.4 296.4 0 0 0 333.96 730.59Z" fill="#f0aab2"/>
<path d="M333.96 730.59A296.4 296.4 0 0 1 327.83 719.37L368.59 698.25A250.5 250.5 0 0 0 373.77 707.74Z" fill="#5baade"/>
<path d="M373.77 707.74A250.5 250.5 0 0 1 368.59 698.25L409.34 677.13A204.6 204.6 0 0 0 413.57 684.88Z" fill="#4aa0d9"/>
<path d="M164.82 803.84A480 480 0 0 1 155.69 785.25L197.32 765.91A434.1 434.1 0 0 0 205.57 782.72Z" fill="#4aa0d9"/>
<path d="M205.57 782.72A434.1 434.1 0 0 1 197.32 765.91L238.94 746.57A388.2 388.2 0 0 0 246.33 761.6Z" fill="#78bce7"/>
<path d="M246.33 761.6A388.2 388.2 0 0 1 238.94 746.57L280.57 727.23A342.3 342.3 0 0 0 287.08 740.49Z" fill="#e67581"/>
<path d="M287.08 740.49A342.3 342.3 0 0 1 280.57 727.23L322.2 707.89A296.4 296.4 0 0 0 327.83 719.37Z" fill="#efa5ae"/>
<path d="M327.83 719.37A296.4 296.4 0 0 1 322.2 707.89L363.82 688.55A250.5 250.5 0 0 0 368.59 698.25Z" fill="#3a95d3"/>
<path d="M368.59 698.25A250.5 250.5 0 0 1 363.82 688.55L405.45 669.21A204.6 204.6 0 0 0 409.34 677.13Z" fill="#4aa0d9"/>
<path d="M155.69 785.25A480 480 0 0 1 147.37 766.29L189.79 748.76A434.1 434.1 0 0 0 197.32 765.91Z" fill="#3a95d3"/>
<path d="M197.32 765.91A434.1 434.1 0 0 1 189.79 748.76L232.22 731.23A388.2 388.2 0 0 0 238.94 746.57Z" fill="#63b0e1"/>
<path d="M238.94 746.57A388.2 388.2 0 0 1 232.22 731.23L274.64 713.71A342.3 342.3 0 0 0 280.57 727.23Z" fill="#c7e2f7"/>
<path d="M280.57 727.23A342.3 342.3 0 0 1 274.64 713.71L317.06 696.18A296.4 296.4 0 0 0 322.2 707.89Z" fill="#a1d0ef"/>
<path d="M322.2 707.89A296.4 296.4 0 0 1 317.06 696.18L359.48 678.65A250.5 250.5 0 0 0 363.82 688.55Z" fill="#78bce7"/>
<path d="M363.82 688.55A250.5 250.5 0 0 1 359.48 678.65L401.9 661.13A204.6 204.6 0 0 0 405.45 669.21Z" fill="#429ad6"/>
<path d="M147.37 766.29A480 480 0 0 1 139.88 746.98L183.02 731.3A434.1 434.1 0 0 0 189.79 748.76Z" fill="#3a95d3"/>
<path d="M189.79 748.76A434.1 434.1 0 0 1 183.02 731.3L226.16 715.62A388.2 388.2 0 0 0 232.22 731.23Z" fill="#6bb5e4"/>
<path d="M232.22 731.23A388.2 388.2 0 0 1 226.16 715.62L269.29 699.94A342.3 342.3 0 0 0 274.64 713.71Z" fill="#f1f8fd"/>
<path d="M274.64 713.71A342.3 342.3 0 0 1 269.29 699.94L312.43 684.26A296.4 296.4 0 0 0 317.06 696.18Z" fill="#94c9ec"/>
<path d="M317.06 696.18A296.4 296.4 0 0 1 312.43 684.26L355.57 668.58A250.5 250.5 0 0 0 359.48 678.65Z" fill="#63b0e1"/>
<path d="M359.48 678.65A250.5 250.5 0 0 1 355.57 668.58L398.71 652.9A204.6 204.6 0 0 0 401.9 661.13Z" fill="#4aa0d9"/>
<path d="M139.88 746.98A480 480 0 0 1 133.23 727.37L177 713.56A434.1 434.1 0 0 0 183.02 731.3Z" fill="#52a5dc"/>
<path d="M183.02 731.3A434.1 434.1 0 0 1 177 713.56L220.77 699.76A388.2 388.2 0 0 0 226.16 715.62Z" fill="#f1f8fd"/>
<path d="M226.16 715.62A388.2 388.2 0 0 1 220.77 699.76L264.55 685.95A342.3 342.3 0 0 0 269.29 699.94Z" fill="#d8ebf9"/>
<path d="M269.29 699.94A342.3 342.3 0 0 1 264.55 685.95L308.32 672.15A296.4 296.4 0 0 0 312.43 684.26Z" fill="#94c9ec"/>
<path d="M312.43 684.26A296.4 296.4 0 0 1 308.32 672.15L352.1 658.34A250.5 250.5 0 0 0 355.57 668.58Z" fill="#5baade"/>
<path d="M355.57 668.58A250.5 250.5 0 0 1 352.1 658.34L395.87 644.54A204.6 204.6 0 0 0 398.71 652.9Z" fill="#429ad6"/>
<path d="M133.23 727.37A480 480 0 0 1 127.42 707.49L171.75 695.58A434.1 434.1 0 0 0 177 713.56Z" fill="#5baade"/>
<path d="M177 713.56A434.1 434.1 0 0 1 171.75 695.58L216.08 683.68A388.2 388.2 0 0 0 220.77 699.76Z" fill="#d8ebf9"/>
<path d="M220.77 699.76A388.2 388.2 0 0 1 216.08 683.68L260.41 671.78A342.3 342.3 0 0 0 264.55 685.95Z" fill="#a1d0ef"/>
<path d="M264.55 685.95A342.3 342.3 0 0 1 260.41 671.78L304.74 659.87A296.4 296.4 0 0 0 308.32 672.15Z" fill="#6bb5e4"/>
<path d="M308.32 672.15A296.4 296.4 0 0 1 304.74 659.87L349.07 647.97A250.5 250.5 0 0 0 352.1 658.34Z" fill="#63b0e1"/>
<path d="M352.1 658.34A250.5 250.5 0 0 1 349.07 647.97L393.4 636.06A204.6 204.6 0 0 0 395.87 644.54Z" fill="#4aa0d9"/>
<path d="M127.42 707.49A480 480 0 0 1 122.49 687.38L167.29 677.4A434.1 434.1 0 0 0 171.75 695.58Z" fill="#63b0e1"/>
<path d="M171.75 695.58A434.1 434.1 0 0 1 167.29 677.4L212.09 667.41A388.2 388.2 0 0 0 216.08 683.68Z" fill="#dfeffa"/>
<path d="M216.08 683.68A388.2 388.2 0 0 1 212.09 667.41L256.89 657.43A342.3 342.3 0 0 0 260.41 671.78Z" fill="#aed6f2"/>
<path d="M260.41 671.78A342.3 342.3 0 0 1 256.89 657.43L301.69 647.45A296.4 296.4 0 0 0 304.74 659.87Z" fill="#78bce7"/>
<path d="M304.74 659.87A296.4 296.4 0 0 1 301.69 647.45L346.49 637.47A250.5 250.5 0 0 0 349.07 647.97Z" fill="#78bce7"/>
<path d="M349.07 647.97A250.5 250.5 0 0 1 346.49 637.47L391.3 627.49A204.6 204.6 0 0 0 393.4 636.06Z" fill="#429ad6"/>
<path d="M122.49 687.38A480 480 0 0 1 118.42 667.07L163.61 659.03A434.1 434.1 0 0 0 167.29 677.4Z" fill="#3a90cf"/>
<path d="M167.29 677.4A434.1 434.1 0 0 1 163.61 659.03L208.8 650.99A388.2 388.2 0 0 0 212.09 667.41Z" fill="#fce7e9"/>
<path d="M212.09 667.41A388.2 388.2 0 0 1 208.8 650.99L253.99 642.95A342.3 342.3 0 0 0 256.89 657.43Z" fill="#a1d0ef"/>
<path d="M256.89 657.43A342.3 342.3 0 0 1 253.99 642.95L299.18 634.91A296.4 296.4 0 0 0 301.69 647.45Z" fill="#94c9ec"/>
<path d="M301.69 647.45A296.4 296.4 0 0 1 299.18 634.91L344.37 626.87A250.5 250.5 0 0 0 346.49 637.47Z" fill="#fce7e9"/>
<path d="M346.49 637.47A250.5 250.5 0 0 1 344.37 626.87L389.56 618.84A204.6 204.6 0 0 0 391.3 627.49Z" fill="#4aa0d9"/>
<path d="M118.42 667.07A480 480 0 0 1 115.23 646.61L160.73 640.53A434.1 434.1 0 0 0 163.61 659.03Z" fill="#63b0e1"/>
<path d="M163.61 659.03A434.1 434.1 0 0 1 160.73 640.53L206.22 634.44A388.2 388.2 0 0 0 208.8 650.99Z" fill="#efa5ae"/>
<path d="M208.8 650.99A388.2 388.2 0 0 1 206.22 634.44L251.72 628.36A342.3 342.3 0 0 0 253.99 642.95Z" fill="#aed6f2"/>
<path d="M253.99 642.95A342.3 342.3 0 0 1 251.72 628.36L297.21 622.28A296.4 296.4 0 0 0 299.18 634.91Z" fill="#a1d0ef"/>
<path d="M299.18 634.91A296.4 296.4 0 0 1 297.21 622.28L342.71 616.2A250.5 250.5 0 0 0 344.37 626.87Z" fill="#a1d0ef"/>
<path d="M344.37 626.87A250.5 250.5 0 0 1 342.71 616.2L388.2 610.11A204.6 204.6 0 0 0 389.56 618.84Z" fill="#52a5dc"/>
<path d="M115.23 646.61A480 480 0 0 1 112.93 626.03L158.65 621.91A434.1 434.1 0 0 0 160.73 640.53Z" fill="#3a90cf"/>
<path d="M160.73 640.53A434.1 434.1 0 0 1 158.65 621.91L204.36 617.8A388.2 388.2 0 0 0 206.22 634.44Z" fill="#efa5ae"/>
<path d="M206.22 634.44A388.2 388.2 0 0 1 204.36 617.8L250.08 613.68A342.3 342.3 0 0 0 251.72 628.36Z" fill="#eaf4fc"/>
<path d="M251.72 628.36A342.3 342.3 0 0 1 250.08 613.68L295.79 609.57A296.4 296.4 0 0 0 297.21 622.28Z" fill="#d8ebf9"/>
<path d="M297.21 622.28A296.4 296.4 0 0 1 295.79 609.57L341.51 605.45A250.5 250.5 0 0 0 342.71 616.2Z" fill="#86c2ea"/>
<path d="M342.71 616.2A250.5 250.5 0 0 1 341.51 605.45L387.22 601.34A204.6 204.6 0 0 0 388.2 610.11Z" fill="#4aa0d9"/>
<path d="M112.93 626.03A480 480 0 0 1 111.52 605.37L157.37 603.23A434.1 434.1 0 0 0 158.65 621.91Z" fill="#3a90cf"/>
<path d="M158.65 621.91A434.1 434.1 0 0 1 157.37 603.23L203.22 601.09A388.2 388.2 0 0 0 204.36 617.8Z" fill="#ee9fa9"/>
<path d="M204.36 617.8A388.2 388.2 0 0 1 203.22 601.09L249.07 598.95A342.3 342.3 0 0 0 250.08 613.68Z" fill="#b4d9f3"/>
<path d="M250.08 613.68A342.3 342.3 0 0 1 249.07 598.95L294.92 596.81A296.4 296.4 0 0 0 295.79 609.57Z" fill="#a1d0ef"/>
<path d="M295.79 609.57A296.4 296.4 0 0 1 294.92 596.81L340.77 594.67A250.5 250.5 0 0 0 341.51 605.45Z" fill="#78bce7"/>
<path d="M341.51 605.45A250.5 250.5 0 0 1 340.77 594.67L386.62 592.53A204.6 204.6 0 0 0 387.22 601.34Z" fill="#5baade"/>
<path d="M111.52 605.37A480 480 0 0 1 111 584.66L156.9 584.5A434.1 434.1 0 0 0 157.37 603.23Z" fill="#d8ebf9"/>
<path d="M157.37 603.23A434.1 434.1 0 0 1 156.9 584.5L202.8 584.34A388.2 388.2 0 0 0 203.22 601.09Z" fill="#f4bac1"/>
<path d="M203.22 601.09A388.2 388.2 0 0 1 202.8 584.34L248.7 584.19A342.3 342.3 0 0 0 249.07 598.95Z" fill="#aed6f2"/>
<path d="M249.07 598.95A342.3 342.3 0 0 1 248.7 584.19L294.6 584.03A296.4 296.4 0 0 0 294.92 596.81Z" fill="#86c2ea"/>
<path d="M294.92 596.81A296.4 296.4 0 0 1 294.6 584.03L340.5 583.87A250.5 250.5 0 0 0 340.77 594.67Z" fill="#86c2ea"/>
<path d="M340.77 594.67A250.5 250.5 0 0 1 340.5 583.87L386.4 583.71A204.6 204.6 0 0 0 386.62 592.53Z" fill="#4aa0d9"/>
<path d="M111 584.66A480 480 0 0 1 111.38 563.96L157.24 565.78A434.1 434.1 0 0 0 156.9 584.5Z" fill="#c7e2f7"/>
<path d="M156.9 584.5A434.1 434.1 0 0 1 157.24 565.78L203.11 567.6A388.2 388.2 0 0 0 202.8 584.34Z" fill="#eaf4fc"/>
<path d="M202.8 584.34A388.2 388.2 0 0 1 203.11 567.6L248.97 569.42A342.3 342.3 0 0 0 248.7 584.19Z" fill="#c7e2f7"/>
<path d="M248.7 584.19A342.3 342.3 0 0 1 248.97 569.42L294.83 571.24A296.4 296.4 0 0 0 294.6 584.03Z" fill="#a1d0ef"/>
<path d="M294.6 584.03A296.4 296.4 0 0 1 294.83 571.24L340.7 573.06A250.5 250.5 0 0 0 340.5 583.87Z" fill="#a1d0ef"/>
<path d="M340.5 583.87A250.5 250.5 0 0 1 340.7 573.06L386.56 574.88A204.6 204.6 0 0 0 386.4 583.71Z" fill="#3a95d3"/>
<path d="M111.38 563.96A480 480 0 0 1 112.65 543.29L158.39 547.08A434.1 434.1 0 0 0 157.24 565.78Z" fill="#c7e2f7"/>
<path d="M157.24 565.78A434.1 434.1 0 0 1 158.39 547.08L204.13 550.88A388.2 388.2 0 0 0 203.11 567.6Z" fill="#fdeef0"/>
<path d="M203.11 567.6A388.2 388.2 0 0 1 204.13 550.88L249.87 554.68A342.3 342.3 0 0 0 248.97 569.42Z" fill="#fdeef0"/>
<path d="M248.97 569.42A342.3 342.3 0 0 1 249.87 554.68L295.62 558.48A296.4 296.4 0 0 0 294.83 571.24Z" fill="#86c2ea"/>
<path d="M294.83 571.24A296.4 296.4 0 0 1 295.62 558.48L341.36 562.27A250.5 250.5 0 0 0 340.7 573.06Z" fill="#94c9ec"/>
<path d="M340.7 573.06A250.5 250.5 0 0 1 341.36 562.27L387.1 566.07A204.6 204.6 0 0 0 386.56 574.88Z" fill="#429ad6"/>
<path d="M112.65 543.29A480 480 0 0 1 114.8 522.69L160.34 528.46A434.1 434.1 0 0 0 158.39 547.08Z" fill="#c7e2f7"/>
<path d="M158.39 547.08A434.1 434.1 0 0 1 160.34 528.46L205.88 534.22A388.2 388.2 0 0 0 204.13 550.88Z" fill="#ea8a96"/>
<path d="M204.13 550.88A388.2 388.2 0 0 1 205.88 534.22L251.41 539.99A342.3 342.3 0 0 0 249.87 554.68Z" fill="#c7e2f7"/>
<path d="M249.87 554.68A342.3 342.3 0 0 1 251.41 539.99L296.95 545.76A296.4 296.4 0 0 0 295.62 558.48Z" fill="#aed6f2"/>
<path d="M295.62 558.48A296.4 296.4 0 0 1 296.95 545.76L342.49 551.53A250.5 250.5 0 0 0 341.36 562.27Z" fill="#86c2ea"/>
<path d="M341.36 562.27A250.5 250.5 0 0 1 342.49 551.53L388.02 557.29A204.6 204.6 0 0 0 387.1 566.07Z" fill="#6bb5e4"/>
<path d="M114.8 522.69A480 480 0 0 1 117.85 502.21L163.09 509.93A434.1 434.1 0 0 0 160.34 528.46Z" fill="#fbe1e3"/>
<path d="M160.34 528.46A434.1 434.1 0 0 1 163.09 509.93L208.34 517.66A388.2 388.2 0 0 0 205.88 534.22Z" fill="#f4bac1"/>
<path d="M205.88 534.22A388.2 388.2 0 0 1 208.34 517.66L253.58 525.38A342.3 342.3 0 0 0 251.41 539.99Z" fill="#c7e2f7"/>
<path d="M251.41 539.99A342.3 342.3 0 0 1 253.58 525.38L298.83 533.11A296.4 296.4 0 0 0 296.95 545.76Z" fill="#bcddf5"/>
<path d="M296.95 545.76A296.4 296.4 0 0 1 298.83 533.11L344.07 540.84A250.5 250.5 0 0 0 342.49 551.53Z" fill="#a1d0ef"/>
<path d="M342.49 551.53A250.5 250.5 0 0 1 344.07 540.84L389.32 548.56A204.6 204.6 0 0 0 388.02 557.29Z" fill="#5baade"/>
<path d="M117.85 502.21A480 480 0 0 1 121.77 481.87L166.64 491.54A434.1 434.1 0 0 0 163.09 509.93Z" fill="#f4fafd"/>
<path d="M163.09 509.93A434.1 434.1 0 0 1 166.64 491.54L211.51 501.21A388.2 388.2 0 0 0 208.34 517.66Z" fill="#f7cdd1"/>
<path d="M208.34 517.66A388.2 388.2 0 0 1 211.51 501.21L256.38 510.88A342.3 342.3 0 0 0 253.58 525.38Z" fill="#eaf4fc"/>
<path d="M253.58 525.38A342.3 342.3 0 0 1 256.38 510.88L301.25 520.55A296.4 296.4 0 0 0 298.83 533.11Z" fill="#aed6f2"/>
<path d="M298.83 533.11A296.4 296.4 0 0 1 301.25 520.55L346.12 530.22A250.5 250.5 0 0 0 344.07 540.84Z" fill="#a1d0ef"/>
<path d="M344.07 540.84A250.5 250.5 0 0 1 346.12 530.22L390.99 539.89A204.6 204.6 0 0 0 389.32 548.56Z" fill="#78bce7"/>
<path d="M121.77 481.87A480 480 0 0 1 126.57 461.73L170.98 473.32A434.1 434.1 0 0 0 166.64 491.54Z" fill="#fadadd"/>
<path d="M166.64 491.54A434.1 434.1 0 0 1 170.98 473.32L215.39 484.92A388.2 388.2 0 0 0 211.51 501.21Z" fill="#ed97a2"/>
<path d="M211.51 501.21A388.2 388.2 0 0 1 215.39 484.92L259.81 496.52A342.3 342.3 0 0 0 256.38 510.88Z" fill="#f4fafd"/>
<path d="M256.38 510.88A342.3 342.3 0 0 1 259.81 496.52L304.22 508.11A296.4 296.4 0 0 0 301.25 520.55Z" fill="#cee6f8"/>
<path d="M301.25 520.55A296.4 296.4 0 0 1 304.22 508.11L348.63 519.71A250.5 250.5 0 0 0 346.12 530.22Z" fill="#b4d9f3"/>
<path d="M346.12 530.22A250.5 250.5 0 0 1 348.63 519.71L393.04 531.31A204.6 204.6 0 0 0 390.99 539.89Z" fill="#86c2ea"/>
<path d="M126.57 461.73A480 480 0 0 1 132.24 441.81L176.11 455.31A434.1 434.1 0 0 0 170.98 473.32Z" fill="#fbe1e3"/>
<path d="M170.98 473.32A434.1 434.1 0 0 1 176.11 455.31L219.97 468.81A388.2 388.2 0 0 0 215.39 484.92Z" fill="#f2b2ba"/>
<path d="M215.39 484.92A388.2 388.2 0 0 1 219.97 468.81L263.84 482.31A342.3 342.3 0 0 0 259.81 496.52Z" fill="#fbe1e3"/>
<path d="M259.81 496.52A342.3 342.3 0 0 1 263.84 482.31L307.71 495.81A296.4 296.4 0 0 0 304.22 508.11Z" fill="#dfeffa"/>
<path d="M304.22 508.11A296.4 296.4 0 0 1 307.71 495.81L351.58 509.31A250.5 250.5 0 0 0 348.63 519.71Z" fill="#c3e1f6"/>
<path d="M348.63 519.71A250.5 250.5 0 0 1 351.58 509.31L395.45 522.82A204.6 204.6 0 0 0 393.04 531.31Z" fill="#78bce7"/>
<path d="M132.24 441.81A480 480 0 0 1 138.75 422.15L182 437.53A434.1 434.1 0 0 0 176.11 455.31Z" fill="#d8ebf9"/>
<path d="M176.11 455.31A434.1 434.1 0 0 1 182 437.53L225.25 452.91A388.2 388.2 0 0 0 219.97 468.81Z" fill="#efa5ae"/>
<path d="M219.97 468.81A388.2 388.2 0 0 1 225.25 452.91L268.49 468.29A342.3 342.3 0 0 0 263.84 482.31Z" fill="#fadadd"/>
<path d="M263.84 482.31A342.3 342.3 0 0 1 268.49 468.29L311.74 483.67A296.4 296.4 0 0 0 307.71 495.81Z" fill="#f1f8fd"/>
<path d="M307.71 495.81A296.4 296.4 0 0 1 311.74 483.67L354.98 499.06A250.5 250.5 0 0 0 351.58 509.31Z" fill="#c7e2f7"/>
<path d="M351.58 509.31A250.5 250.5 0 0 1 354.98 499.06L398.23 514.44A204.6 204.6 0 0 0 395.45 522.82Z" fill="#86c2ea"/>
<path d="M138.75 422.15A480 480 0 0 1 146.11 402.79L188.65 420.02A434.1 434.1 0 0 0 182 437.53Z" fill="#aed6f2"/>
<path d="M182 437.53A434.1 434.1 0 0 1 188.65 420.02L231.2 437.26A388.2 388.2 0 0 0 225.25 452.91Z" fill="#f6c5ca"/>
<path d="M225.25 452.91A388.2 388.2 0 0 1 231.2 437.26L273.74 454.49A342.3 342.3 0 0 0 268.49 468.29Z" fill="#dfeffa"/>
<path d="M268.49 468.29A342.3 342.3 0 0 1 273.74 454.49L316.28 471.72A296.4 296.4 0 0 0 311.74 483.67Z" fill="#d8ebf9"/>
<path d="M311.74 483.67A296.4 296.4 0 0 1 316.28 471.72L358.82 488.95A250.5 250.5 0 0 0 354.98 499.06Z" fill="#d1e8f8"/>
<path d="M354.98 499.06A250.5 250.5 0 0 1 358.82 488.95L401.37 506.19A204.6 204.6 0 0 0 398.23 514.44Z" fill="#94c9ec"/>
<path d="M146.11 402.79A480 480 0 0 1 154.3 383.77L196.06 402.82A434.1 434.1 0 0 0 188.65 420.02Z" fill="#c7e2f7"/>
<path d="M188.65 420.02A434.1 434.1 0 0 1 196.06 402.82L237.82 421.87A388.2 388.2 0 0 0 231.2 437.26Z" fill="#f1f8fd"/>
<path d="M231.2 437.26A388.2 388.2 0 0 1 237.82 421.87L279.58 440.92A342.3 342.3 0 0 0 273.74 454.49Z" fill="#fce7e9"/>
<path d="M273.74 454.49A342.3 342.3 0 0 1 279.58 440.92L321.34 459.98A296.4 296.4 0 0 0 316.28 471.72Z" fill="#cee6f8"/>
<path d="M316.28 471.72A296.4 296.4 0 0 1 321.34 459.98L363.1 479.03A250.5 250.5 0 0 0 358.82 488.95Z" fill="#c7e2f7"/>
<path d="M358.82 488.95A250.5 250.5 0 0 1 363.1 479.03L404.86 498.08A204.6 204.6 0 0 0 401.37 506.19Z" fill="#94c9ec"/>
<path d="M154.3 383.77A480 480 0 0 1 163.3 365.12L204.2 385.95A434.1 434.1 0 0 0 196.06 402.82Z" fill="#b4d9f3"/>
<path d="M196.06 402.82A434.1 434.1 0 0 1 204.2 385.95L245.1 406.79A388.2 388.2 0 0 0 237.82 421.87Z" fill="#fdf2f3"/>
<path d="M237.82 421.87A388.2 388.2 0 0 1 245.1 406.79L286 427.62A342.3 342.3 0 0 0 279.58 440.92Z" fill="#fdf2f3"/>
<path d="M279.58 440.92A342.3 342.3 0 0 1 286 427.62L326.9 448.46A296.4 296.4 0 0 0 321.34 459.98Z" fill="#b4d9f3"/>
<path d="M321.34 459.98A296.4 296.4 0 0 1 326.9 448.46L367.79 469.29A250.5 250.5 0 0 0 363.1 479.03Z" fill="#d8ebf9"/>
<path d="M363.1 479.03A250.5 250.5 0 0 1 367.79 469.29L408.69 490.13A204.6 204.6 0 0 0 404.86 498.08Z" fill="#94c9ec"/>
<path d="M163.3 365.12A480 480 0 0 1 173.1 346.87L213.06 369.45A434.1 434.1 0 0 0 204.2 385.95Z" fill="#aed6f2"/>
<path d="M204.2 385.95A434.1 434.1 0 0 1 213.06 369.45L253.02 392.03A388.2 388.2 0 0 0 245.1 406.79Z" fill="#f5bfc5"/>
<path d="M245.1 406.79A388.2 388.2 0 0 1 253.02 392.03L292.98 414.61A342.3 342.3 0 0 0 286 427.62Z" fill="#ea8a96"/>
<path d="M286 427.62A342.3 342.3 0 0 1 292.98 414.61L332.94 437.19A296.4 296.4 0 0 0 326.9 448.46Z" fill="#fadadd"/>
<path d="M326.9 448.46A296.4 296.4 0 0 1 332.94 437.19L372.91 459.77A250.5 250.5 0 0 0 367.79 469.29Z" fill="#dfeffa"/>
<path d="M367.79 469.29A250.5 250.5 0 0 1 372.91 459.77L412.87 482.35A204.6 204.6 0 0 0 408.69 490.13Z" fill="#86c2ea"/>
<path d="M173.1 346.87A480 480 0 0 1 183.67 329.07L222.62 353.35A434.1 434.1 0 0 0 213.06 369.45Z" fill="#eaf4fc"/>
<path d="M213.06 369.45A434.1 434.1 0 0 1 222.62 353.35L261.57 377.63A388.2 388.2 0 0 0 253.02 392.03Z" fill="#f4bac1"/>
<path d="M253.02 392.03A388.2 388.2 0 0 1 261.57 377.63L300.52 401.91A342.3 342.3 0 0 0 292.98 414.61Z" fill="#eb8f9b"/>
<path d="M292.98 414.61A342.3 342.3 0 0 1 300.52 401.91L339.47 426.2A296.4 296.4 0 0 0 332.94 437.19Z" fill="#fcebec"/>
<path d="M332.94 437.19A296.4 296.4 0 0 1 339.47 426.2L378.42 450.48A250.5 250.5 0 0 0 372.91 459.77Z" fill="#fdeef0"/>
<path d="M372.91 459.77A250.5 250.5 0 0 1 378.42 450.48L417.38 474.76A204.6 204.6 0 0 0 412.87 482.35Z" fill="#63b0e1"/>
<path d="M183.67 329.07A480 480 0 0 1 195 311.73L232.87 337.67A434.1 434.1 0 0 0 222.62 353.35Z" fill="#eaf4fc"/>
<path d="M222.62 353.35A434.1 434.1 0 0 1 232.87 337.67L270.74 363.61A388.2 388.2 0 0 0 261.57 377.63Z" fill="#eaf4fc"/>
<path d="M261.57 377.63A388.2 388.2 0 0 1 270.74 363.61L308.6 389.55A342.3 342.3 0 0 0 300.52 401.91Z" fill="#e98591"/>
<path d="M300.52 401.91A342.3 342.3 0 0 1 308.6 389.55L346.47 415.49A296.4 296.4 0 0 0 339.47 426.2Z" fill="#fadadd"/>
<path d="M339.47 426.2A296.4 296.4 0 0 1 346.47 415.49L384.34 441.43A250.5 250.5 0 0 0 378.42 450.48Z" fill="#fcebec"/>
<path d="M378.42 450.48A250.5 250.5 0 0 1 384.34 441.43L422.21 467.37A204.6 204.6 0 0 0 417.38 474.76Z" fill="#4aa0d9"/>
<path d="M195 311.73A480 480 0 0 1 207.07 294.9L243.79 322.45A434.1 434.1 0 0 0 232.87 337.67Z" fill="#cee6f8"/>
<path d="M232.87 337.67A434.1 434.1 0 0 1 243.79 322.45L280.5 350A388.2 388.2 0 0 0 270.74 363.61Z" fill="#dfeffa"/>
<path d="M270.74 363.61A388.2 388.2 0 0 1 280.5 350L317.21 377.55A342.3 342.3 0 0 0 308.6 389.55Z" fill="#efa5ae"/>
<path d="M308.6 389.55A342.3 342.3 0 0 1 317.21 377.55L353.92 405.1A296.4 296.4 0 0 0 346.47 415.49Z" fill="#f1f8fd"/>
<path d="M346.47 415.49A296.4 296.4 0 0 1 353.92 405.1L390.64 432.65A250.5 250.5 0 0 0 384.34 441.43Z" fill="#f1f8fd"/>
<path d="M384.34 441.43A250.5 250.5 0 0 1 390.64 432.65L427.35 460.2A204.6 204.6 0 0 0 422.21 467.37Z" fill="#429ad6"/>
<path d="M207.07 294.9A480 480 0 0 1 219.86 278.61L255.35 307.72A434.1 434.1 0 0 0 243.79 322.45Z" fill="#cee6f8"/>
<path d="M243.79 322.45A434.1 434.1 0 0 1 255.35 307.72L290.84 336.83A388.2 388.2 0 0 0 280.5 350Z" fill="#f1f8fd"/>
<path d="M280.5 350A388.2 388.2 0 0 1 290.84 336.83L326.33 365.93A342.3 342.3 0 0 0 317.21 377.55Z" fill="#f2b2ba"/>
<path d="M317.21 377.55A342.3 342.3 0 0 1 326.33 365.93L361.82 395.04A296.4 296.4 0 0 0 353.92 405.1Z" fill="#fcebec"/>
<path d="M353.92 405.1A296.4 296.4 0 0 1 361.82 395.04L397.31 424.15A250.5 250.5 0 0 0 390.64 432.65Z" fill="#fdeef0"/>
<path d="M390.64 432.65A250.5 250.5 0 0 1 397.31 424.15L432.8 453.25A204.6 204.6 0 0 0 427.35 460.2Z" fill="#4aa0d9"/>
<path d="M219.86 278.61A480 480 0 0 1 233.33 262.89L267.53 293.5A434.1 434.1 0 0 0 255.35 307.72Z" fill="#edf6fc"/>
<path d="M255.35 307.72A434.1 434.1 0 0 1 267.53 293.5L301.74 324.11A388.2 388.2 0 0 0 290.84 336.83Z" fill="#eaf4fc"/>
<path d="M290.84 336.83A388.2 388.2 0 0 1 301.74 324.11L335.94 354.72A342.3 342.3 0 0 0 326.33 365.93Z" fill="#f5bfc5"/>
<path d="M326.33 365.93A342.3 342.3 0 0 1 335.94 354.72L370.14 385.33A296.4 296.4 0 0 0 361.82 395.04Z" fill="#fbe4e6"/>
<path d="M361.82 395.04A296.4 296.4 0 0 1 370.14 385.33L404.34 415.94A250.5 250.5 0 0 0 397.31 424.15Z" fill="#fbfdfe"/>
<path d="M397.31 424.15A250.5 250.5 0 0 1 404.34 415.94L438.54 446.55A204.6 204.6 0 0 0 432.8 453.25Z" fill="#4aa0d9"/>
<path d="M233.33 262.89A480 480 0 0 1 247.47 247.76L280.32 279.81A434.1 434.1 0 0 0 267.53 293.5Z" fill="#eaf4fc"/>
<path d="M267.53 293.5A434.1 434.1 0 0 1 280.32 279.81L313.17 311.87A388.2 388.2 0 0 0 301.74 324.11Z" fill="#dfeffa"/>
<path d="M301.74 324.11A388.2 388.2 0 0 1 313.17 311.87L346.02 343.93A342.3 342.3 0 0 0 335.94 354.72Z" fill="#f5bfc5"/>
<path d="M335.94 354.72A342.3 342.3 0 0 1 346.02 343.93L378.87 375.99A296.4 296.4 0 0 0 370.14 385.33Z" fill="#fffcfc"/>
<path d="M370.14 385.33A296.4 296.4 0 0 1 378.87 375.99L411.72 408.04A250.5 250.5 0 0 0 404.34 415.94Z" fill="#cee6f8"/>
<path d="M404.34 415.94A250.5 250.5 0 0 1 411.72 408.04L444.57 440.1A204.6 204.6 0 0 0 438.54 446.55Z" fill="#63b0e1"/>
<path d="M247.47 247.76A480 480 0 0 1 262.25 233.25L293.69 266.7A434.1 434.1 0 0 0 280.32 279.81Z" fill="#d8ebf9"/>
<path d="M280.32 279.81A434.1 434.1 0 0 1 293.69 266.7L325.13 300.14A388.2 388.2 0 0 0 313.17 311.87Z" fill="#edf6fc"/>
<path d="M313.17 311.87A388.2 388.2 0 0 1 325.13 300.14L356.56 333.58A342.3 342.3 0 0 0 346.02 343.93Z" fill="#fdeef0"/>
<path d="M346.02 343.93A342.3 342.3 0 0 1 356.56 333.58L388 367.03A296.4 296.4 0 0 0 378.87 375.99Z" fill="#fffcfc"/>
<path d="M378.87 375.99A296.4 296.4 0 0 1 388 367.03L419.43 400.47A250.5 250.5 0 0 0 411.72 408.04Z" fill="#c7e2f7"/>
<path d="M411.72 408.04A250.5 250.5 0 0 1 419.43 400.47L450.87 433.92A204.6 204.6 0 0 0 444.57 440.1Z" fill="#78bce7"/>
<path d="M262.25 233.25A480 480 0 0 1 277.64 219.4L307.61 254.17A434.1 434.1 0 0 0 293.69 266.7Z" fill="#94c9ec"/>
<path d="M293.69 266.7A434.1 434.1 0 0 1 307.61 254.17L337.57 288.93A388.2 388.2 0 0 0 325.13 300.14Z" fill="#d8ebf9"/>
<path d="M325.13 300.14A388.2 388.2 0 0 1 337.57 288.93L367.54 323.7A342.3 342.3 0 0 0 356.56 333.58Z" fill="#fdeef0"/>
<path d="M356.56 333.58A342.3 342.3 0 0 1 367.54 323.7L397.5 358.47A296.4 296.4 0 0 0 388 367.03Z" fill="#d8ebf9"/>
<path d="M388 367.03A296.4 296.4 0 0 1 397.5 358.47L427.47 393.24A250.5 250.5 0 0 0 419.43 400.47Z" fill="#bcddf5"/>
<path d="M419.43 400.47A250.5 250.5 0 0 1 427.47 393.24L457.43 428.01A204.6 204.6 0 0 0 450.87 433.92Z" fill="#94c9ec"/>
<path d="M277.64 219.4A480 480 0 0 1 293.62 206.22L322.06 242.25A434.1 434.1 0 0 0 307.61 254.17Z" fill="#86c2ea"/>
<path d="M307.61 254.17A434.1 434.1 0 0 1 322.06 242.25L350.49 278.28A388.2 388.2 0 0 0 337.57 288.93Z" fill="#c7e2f7"/>
<path d="M337.57 288.93A388.2 388.2 0 0 1 350.49 278.28L378.93 314.31A342.3 342.3 0 0 0 367.54 323.7Z" fill="#fffcfc"/>
<path d="M367.54 323.7A342.3 342.3 0 0 1 378.93 314.31L407.37 350.34A296.4 296.4 0 0 0 397.5 358.47Z" fill="#f1f8fd"/>
<path d="M397.5 358.47A296.4 296.4 0 0 1 407.37 350.34L435.8 386.37A250.5 250.5 0 0 0 427.47 393.24Z" fill="#aed6f2"/>
<path d="M427.47 393.24A250.5 250.5 0 0 1 435.8 386.37L464.24 422.4A204.6 204.6 0 0 0 457.43 428.01Z" fill="#a1d0ef"/>
<path d="M293.62 206.22A480 480 0 0 1 310.15 193.74L337.01 230.96A434.1 434.1 0 0 0 322.06 242.25Z" fill="#6bb5e4"/>
<path d="M322.06 242.25A434.1 434.1 0 0 1 337.01 230.96L363.86 268.19A388.2 388.2 0 0 0 350.49 278.28Z" fill="#86c2ea"/>
<path d="M350.49 278.28A388.2 388.2 0 0 1 363.86 268.19L390.72 305.41A342.3 342.3 0 0 0 378.93 314.31Z" fill="#f1f8fd"/>
<path d="M378.93 314.31A342.3 342.3 0 0 1 390.72 305.41L417.57 342.63A296.4 296.4 0 0 0 407.37 350.34Z" fill="#f1f8fd"/>
<path d="M407.37 350.34A296.4 296.4 0 0 1 417.57 342.63L444.43 379.86A250.5 250.5 0 0 0 435.8 386.37Z" fill="#a1d0ef"/>
<path d="M435.8 386.37A250.5 250.5 0 0 1 444.43 379.86L471.29 417.08A204.6 204.6 0 0 0 464.24 422.4Z" fill="#a1d0ef"/>
<path d="M310.15 193.74A480 480 0 0 1 327.2 181.99L352.43 220.34A434.1 434.1 0 0 0 337.01 230.96Z" fill="#94c9ec"/>
<path d="M337.01 230.96A434.1 434.1 0 0 1 352.43 220.34L377.65 258.68A388.2 388.2 0 0 0 363.86 268.19Z" fill="#aed6f2"/>
<path d="M363.86 268.19A388.2 388.2 0 0 1 377.65 258.68L402.88 297.03A342.3 342.3 0 0 0 390.72 305.41Z" fill="#eaf4fc"/>
<path d="M390.72 305.41A342.3 342.3 0 0 1 402.88 297.03L428.1 335.38A296.4 296.4 0 0 0 417.57 342.63Z" fill="#e6f2fb"/>
<path d="M417.57 342.63A296.4 296.4 0 0 1 428.1 335.38L453.33 373.72A250.5 250.5 0 0 0 444.43 379.86Z" fill="#a1d0ef"/>
<path d="M444.43 379.86A250.5 250.5 0 0 1 453.33 373.72L478.56 412.07A204.6 204.6 0 0 0 471.29 417.08Z" fill="#86c2ea"/>
<path d="M327.2 181.99A480 480 0 0 1 344.74 170.98L368.29 210.38A434.1 434.1 0 0 0 352.43 220.34Z" fill="#b4d9f3"/>
<path d="M352.43 220.34A434.1 434.1 0 0 1 368.29 210.38L391.84 249.78A388.2 388.2 0 0 0 377.65 258.68Z" fill="#bcddf5"/>
<path d="M377.65 258.68A388.2 388.2 0 0 1 391.84 249.78L415.39 289.18A342.3 342.3 0 0 0 402.88 297.03Z" fill="#edf6fc"/>
<path d="M402.88 297.03A342.3 342.3 0 0 1 415.39 289.18L438.94 328.58A296.4 296.4 0 0 0 428.1 335.38Z" fill="#d8ebf9"/>
<path d="M428.1 335.38A296.4 296.4 0 0 1 438.94 328.58L462.48 367.98A250.5 250.5 0 0 0 453.33 373.72Z" fill="#94c9ec"/>
<path d="M453.33 373.72A250.5 250.5 0 0 1 462.48 367.98L486.03 407.38A204.6 204.6 0 0 0 478.56 412.07Z" fill="#5baade"/>
<path d="M344.74 170.98A480 480 0 0 1 362.74 160.74L384.57 201.12A434.1 434.1 0 0 0 368.29 210.38Z" fill="#b4d9f3"/>
<path d="M368.29 210.38A434.1 434.1 0 0 1 384.57 201.12L406.4 241.5A388.2 388.2 0 0 0 391.84 249.78Z" fill="#cee6f8"/>
<path d="M391.84 249.78A388.2 388.2 0 0 1 406.4 241.5L428.23 281.88A342.3 342.3 0 0 0 415.39 289.18Z" fill="#e6f2fb"/>
<path d="M415.39 289.18A342.3 342.3 0 0 1 428.23 281.88L450.05 322.26A296.4 296.4 0 0 0 438.94 328.58Z" fill="#cee6f8"/>
<path d="M438.94 328.58A296.4 296.4 0 0 1 450.05 322.26L471.88 362.64A250.5 250.5 0 0 0 462.48 367.98Z" fill="#a1d0ef"/>
<path d="M462.48 367.98A250.5 250.5 0 0 1 471.88 362.64L493.71 403.01A204.6 204.6 0 0 0 486.03 407.38Z" fill="#4aa0d9"/>
<path d="M362.74 160.74A480 480 0 0 1 381.17 151.29L401.24 192.57A434.1 434.1 0 0 0 384.57 201.12Z" fill="#78bce7"/>
<path d="M384.57 201.12A434.1 434.1 0 0 1 401.24 192.57L421.3 233.86A388.2 388.2 0 0 0 406.4 241.5Z" fill="#d8ebf9"/>
<path d="M406.4 241.5A388.2 388.2 0 0 1 421.3 233.86L441.37 275.14A342.3 342.3 0 0 0 428.23 281.88Z" fill="#f6c5ca"/>
<path d="M428.23 281.88A342.3 342.3 0 0 1 441.37 275.14L461.43 316.42A296.4 296.4 0 0 0 450.05 322.26Z" fill="#bcddf5"/>
<path d="M450.05 322.26A296.4 296.4 0 0 1 461.43 316.42L481.5 357.7A250.5 250.5 0 0 0 471.88 362.64Z" fill="#aed6f2"/>
<path d="M471.88 362.64A250.5 250.5 0 0 1 481.5 357.7L501.56 398.98A204.6 204.6 0 0 0 493.71 403.01Z" fill="#4aa0d9"/>
<path d="M381.17 151.29A480 480 0 0 1 399.99 142.64L418.25 184.75A434.1 434.1 0 0 0 401.24 192.57Z" fill="#a1d0ef"/>
<path d="M401.24 192.57A434.1 434.1 0 0 1 418.25 184.75L436.52 226.86A388.2 388.2 0 0 0 421.3 233.86Z" fill="#edf6fc"/>
<path d="M421.3 233.86A388.2 388.2 0 0 1 436.52 226.86L454.78 268.97A342.3 342.3 0 0 0 441.37 275.14Z" fill="#fadadd"/>
<path d="M441.37 275.14A342.3 342.3 0 0 1 454.78 268.97L473.05 311.08A296.4 296.4 0 0 0 461.43 316.42Z" fill="#c7e2f7"/>
<path d="M461.43 316.42A296.4 296.4 0 0 1 473.05 311.08L491.32 353.19A250.5 250.5 0 0 0 481.5 357.7Z" fill="#a1d0ef"/>
<path d="M481.5 357.7A250.5 250.5 0 0 1 491.32 353.19L509.58 395.3A204.6 204.6 0 0 0 501.56 398.98Z" fill="#63b0e1"/>
<path d="M399.99 142.64A480 480 0 0 1 419.16 134.81L435.59 177.67A434.1 434.1 0 0 0 418.25 184.75Z" fill="#78bce7"/>
<path d="M418.25 184.75A434.1 434.1 0 0 1 435.59 177.67L452.02 220.53A388.2 388.2 0 0 0 436.52 226.86Z" fill="#eaf4fc"/>
<path d="M436.52 226.86A388.2 388.2 0 0 1 452.02 220.53L468.46 263.39A342.3 342.3 0 0 0 454.78 268.97Z" fill="#f2b2ba"/>
<path d="M454.78 268.97A342.3 342.3 0 0 1 468.46 263.39L484.89 306.24A296.4 296.4 0 0 0 473.05 311.08Z" fill="#bcddf5"/>
<path d="M473.05 311.08A296.4 296.4 0 0 1 484.89 306.24L501.32 349.1A250.5 250.5 0 0 0 491.32 353.19Z" fill="#a1d0ef"/>
<path d="M491.32 353.19A250.5 250.5 0 0 1 501.32 349.1L517.75 391.96A204.6 204.6 0 0 0 509.58 395.3Z" fill="#6bb5e4"/>
<path d="M419.16 134.81A480 480 0 0 1 438.65 127.82L453.22 171.35A434.1 434.1 0 0 0 435.59 177.67Z" fill="#86c2ea"/>
<path d="M435.59 177.67A434.1 434.1 0 0 1 453.22 171.35L467.79 214.87A388.2 388.2 0 0 0 452.02 220.53Z" fill="#aed6f2"/>
<path d="M452.02 220.53A388.2 388.2 0 0 1 467.79 214.87L482.36 258.4A342.3 342.3 0 0 0 468.46 263.39Z" fill="#fbe1e3"/>
<path d="M468.46 263.39A342.3 342.3 0 0 1 482.36 258.4L496.93 301.93A296.4 296.4 0 0 0 484.89 306.24Z" fill="#c7e2f7"/>
<path d="M484.89 306.24A296.4 296.4 0 0 1 496.93 301.93L511.49 345.45A250.5 250.5 0 0 0 501.32 349.1Z" fill="#9ccdee"/>
<path d="M501.32 349.1A250.5 250.5 0 0 1 511.49 345.45L526.06 388.98A204.6 204.6 0 0 0 517.75 391.96Z" fill="#63b0e1"/>
<path d="M438.65 127.82A480 480 0 0 1 458.43 121.67L471.1 165.79A434.1 434.1 0 0 0 453.22 171.35Z" fill="#78bce7"/>
<path d="M453.22 171.35A434.1 434.1 0 0 1 471.1 165.79L483.78 209.9A388.2 388.2 0 0 0 467.79 214.87Z" fill="#bcddf5"/>
<path d="M467.79 214.87A388.2 388.2 0 0 1 483.78 209.9L496.46 254.01A342.3 342.3 0 0 0 482.36 258.4Z" fill="#fadadd"/>
<path d="M482.36 258.4A342.3 342.3 0 0 1 496.46 254.01L509.14 298.13A296.4 296.4 0 0 0 496.93 301.93Z" fill="#b4d9f3"/>
<path d="M496.93 301.93A296.4 296.4 0 0 1 509.14 298.13L521.81 342.24A250.5 250.5 0 0 0 511.49 345.45Z" fill="#86c2ea"/>
<path d="M511.49 345.45A250.5 250.5 0 0 1 521.81 342.24L534.49 386.36A204.6 204.6 0 0 0 526.06 388.98Z" fill="#78bce7"/>
<path d="M458.43 121.67A480 480 0 0 1 478.45 116.38L489.21 161A434.1 434.1 0 0 0 471.1 165.79Z" fill="#5baade"/>
<path d="M471.1 165.79A434.1 434.1 0 0 1 489.21 161L499.98 205.62A388.2 388.2 0 0 0 483.78 209.9Z" fill="#f2b2ba"/>
<path d="M483.78 209.9A388.2 388.2 0 0 1 499.98 205.62L510.74 250.24A342.3 342.3 0 0 0 496.46 254.01Z" fill="#f6c5ca"/>
<path d="M496.46 254.01A342.3 342.3 0 0 1 510.74 250.24L521.5 294.86A296.4 296.4 0 0 0 509.14 298.13Z" fill="#c7e2f7"/>
<path d="M509.14 298.13A296.4 296.4 0 0 1 521.5 294.86L532.26 339.48A250.5 250.5 0 0 0 521.81 342.24Z" fill="#94c9ec"/>
<path d="M521.81 342.24A250.5 250.5 0 0 1 532.26 339.48L543.03 384.1A204.6 204.6 0 0 0 534.49 386.36Z" fill="#78bce7"/>
<path d="M478.45 116.38A480 480 0 0 1 498.68 111.96L507.51 157A434.1 434.1 0 0 0 489.21 161Z" fill="#94c9ec"/>
<path d="M489.21 161A434.1 434.1 0 0 1 507.51 157L516.34 202.05A388.2 388.2 0 0 0 499.98 205.62Z" fill="#efa5ae"/>
<path d="M499.98 205.62A388.2 388.2 0 0 1 516.34 202.05L525.17 247.09A342.3 342.3 0 0 0 510.74 250.24Z" fill="#f6c5ca"/>
<path d="M510.74 250.24A342.3 342.3 0 0 1 525.17 247.09L533.99 292.13A296.4 296.4 0 0 0 521.5 294.86Z" fill="#cee6f8"/>
<path d="M521.5 294.86A296.4 296.4 0 0 1 533.99 292.13L542.82 337.18A250.5 250.5 0 0 0 532.26 339.48Z" fill="#9ccdee"/>
<path d="M532.26 339.48A250.5 250.5 0 0 1 542.82 337.18L551.65 382.22A204.6 204.6 0 0 0 543.03 384.1Z" fill="#78bce7"/>
<path d="M498.68 111.96A480 480 0 0 1 519.09 108.42L525.96 153.8A434.1 434.1 0 0 0 507.51 157Z" fill="#86c2ea"/>
<path d="M507.51 157A434.1 434.1 0 0 1 525.96 153.8L532.84 199.18A388.2 388.2 0 0 0 516.34 202.05Z" fill="#efa5ae"/>
<path d="M516.34 202.05A388.2 388.2 0 0 1 532.84 199.18L539.72 244.56A342.3 342.3 0 0 0 525.17 247.09Z" fill="#fdf2f3"/>
<path d="M525.17 247.09A342.3 342.3 0 0 1 539.72 244.56L546.59 289.95A296.4 296.4 0 0 0 533.99 292.13Z" fill="#f8fbfe"/>
<path d="M533.99 292.13A296.4 296.4 0 0 1 546.59 289.95L553.47 335.33A250.5 250.5 0 0 0 542.82 337.18Z" fill="#9ccdee"/>
<path d="M542.82 337.18A250.5 250.5 0 0 1 553.47 335.33L560.35 380.71A204.6 204.6 0 0 0 551.65 382.22Z" fill="#86c2ea"/>
<path d="M519.09 108.42A480 480 0 0 1 539.62 105.76L544.54 151.39A434.1 434.1 0 0 0 525.96 153.8Z" fill="#5baade"/>
<path d="M525.96 153.8A434.1 434.1 0 0 1 544.54 151.39L549.45 197.03A388.2 388.2 0 0 0 532.84 199.18Z" fill="#f6c5ca"/>
<path d="M532.84 199.18A388.2 388.2 0 0 1 549.45 197.03L554.36 242.67A342.3 342.3 0 0 0 539.72 244.56Z" fill="#d8ebf9"/>
<path d="M539.72 244.56A342.3 342.3 0 0 1 554.36 242.67L559.28 288.3A296.4 296.4 0 0 0 546.59 289.95Z" fill="#cee6f8"/>
<path d="M546.59 289.95A296.4 296.4 0 0 1 559.28 288.3L564.19 333.94A250.5 250.5 0 0 0 553.47 335.33Z" fill="#a6d2f0"/>
<path d="M553.47 335.33A250.5 250.5 0 0 1 564.19 333.94L569.1 379.58A204.6 204.6 0 0 0 560.35 380.71Z" fill="#9ccdee"/>
<path d="M539.62 105.76A480 480 0 0 1 560.26 103.99L563.2 149.79A434.1 434.1 0 0 0 544.54 151.39Z" fill="#5baade"/>
<path d="M544.54 151.39A434.1 434.1 0 0 1 563.2 149.79L566.14 195.6A388.2 388.2 0 0 0 549.45 197.03Z" fill="#f8d2d6"/>
<path d="M549.45 197.03A388.2 388.2 0 0 1 566.14 195.6L569.08 241.4A342.3 342.3 0 0 0 554.36 242.67Z" fill="#efa5ae"/>
<path d="M554.36 242.67A342.3 342.3 0 0 1 569.08 241.4L572.02 287.21A296.4 296.4 0 0 0 559.28 288.3Z" fill="#d8ebf9"/>
<path d="M559.28 288.3A296.4 296.4 0 0 1 572.02 287.21L574.96 333.01A250.5 250.5 0 0 0 564.19 333.94Z" fill="#c7e2f7"/>
<path d="M564.19 333.94A250.5 250.5 0 0 1 574.96 333.01L577.9 378.82A204.6 204.6 0 0 0 569.1 379.58Z" fill="#aed6f2"/>
<path d="M560.26 103.99A480 480 0 0 1 580.95 103.11L581.91 149A434.1 434.1 0 0 0 563.2 149.79Z" fill="#52a5dc"/>
<path d="M563.2 149.79A434.1 434.1 0 0 1 581.91 149L582.87 194.89A388.2 388.2 0 0 0 566.14 195.6Z" fill="#fbe1e3"/>
<path d="M566.14 195.6A388.2 388.2 0 0 1 582.87 194.89L583.83 240.78A342.3 342.3 0 0 0 569.08 241.4Z" fill="#f6c5ca"/>
<path d="M569.08 241.4A342.3 342.3 0 0 1 583.83 240.78L584.79 286.67A296.4 296.4 0 0 0 572.02 287.21Z" fill="#cee6f8"/>
<path d="M572.02 287.21A296.4 296.4 0 0 1 584.79 286.67L585.75 332.55A250.5 250.5 0 0 0 574.96 333.01Z" fill="#aed6f2"/>
<path d="M574.96 333.01A250.5 250.5 0 0 1 585.75 332.55L586.72 378.44A204.6 204.6 0 0 0 577.9 378.82Z" fill="#a6d2f0"/>
</g>
<g stroke="#141010" stroke-width="2.6" fill="none" stroke-linecap="square">
<path d="M831 167.31L693.3 405.81M848.71 178.05L700.85 410.39M865.93 189.54L708.19 415.29M882.65 201.77L715.32 420.5M898.82 214.7L722.21 426.01M914.42 228.32L728.86 431.82M929.42 242.6L735.25 437.91M943.79 257.52L741.38 444.26M957.5 273.04L747.22 450.88M970.53 289.13L752.77 457.74M982.85 305.78L758.03 464.83M994.44 322.94L762.97 472.15M1005.29 340.58L767.59 479.67M1015.36 358.68L771.88 487.38M1024.64 377.19L775.84 495.27M1033.11 396.09L779.45 503.33M1040.76 415.33L782.71 511.53M1047.58 434.89L785.62 519.87M1053.54 454.72L788.16 528.32M1058.64 474.79L790.33 536.88M1062.88 495.06L792.14 545.52M1066.23 515.5L793.57 554.23M1068.7 536.06L794.62 562.99M1070.28 556.71L795.29 571.79M1070.97 577.41L795.59 580.62M1070.76 598.11L795.5 589.44M1069.66 618.8L795.03 598.26M1067.67 639.41L794.18 607.04M1064.8 659.92L792.96 615.79M1061.04 680.28L791.35 624.47M1056.4 700.47L789.38 633.07M1050.9 720.43L787.03 641.58M1044.55 740.14L784.33 649.98M1037.35 759.56L781.26 658.26M1029.32 778.65L777.83 666.39M1020.47 797.37L774.06 674.38M1010.82 815.7L769.95 682.19M1000.4 833.59L765.5 689.81M989.21 851.02L760.74 697.24M977.27 867.94L755.65 704.46M964.62 884.34L750.26 711.45M951.28 900.17L744.57 718.2M937.26 915.42L738.59 724.69M922.6 930.05L732.34 730.93M907.32 944.03L725.83 736.89M891.46 957.33L719.07 742.56M875.03 969.95L712.07 747.94M858.07 981.84L704.84 753M840.62 992.99L697.4 757.76M822.71 1003.37L689.76 762.18M804.36 1012.98L681.94 766.28M785.61 1021.78L673.95 770.03M766.5 1029.76L665.81 773.43M747.07 1036.92L657.52 776.48M727.35 1043.23L649.12 779.17M707.37 1048.68L640.6 781.5M687.17 1053.27L631.99 783.45M666.8 1056.98L623.31 785.03M646.28 1059.81L614.56 786.24M625.66 1061.75L605.78 787.07M604.98 1062.8L596.96 787.51M584.27 1062.95L588.13 787.58M563.58 1062.22L579.31 787.27M542.93 1060.59L570.51 786.57M522.38 1058.07L561.75 785.5M501.95 1054.67L553.04 784.05M481.69 1050.39L544.4 782.22M461.63 1045.24L535.85 780.03M441.81 1039.23L527.41 777.47M422.27 1032.37L519.08 774.54M403.04 1024.67L510.88 771.26M384.17 1016.15L502.84 767.63M365.68 1006.83L494.96 763.66M347.6 996.71L487.25 759.35M329.99 985.83L479.74 754.71M312.85 974.2L472.44 749.75M296.24 961.83L465.36 744.48M280.17 948.77L458.51 738.91M264.68 935.02L451.91 733.05M249.8 920.62L445.56 726.91M235.56 905.58L439.49 720.5M221.97 889.95L433.7 713.84M209.08 873.75L428.21 706.93M196.89 857L423.01 699.79M185.44 839.75L418.13 692.44M174.74 822.02L413.57 684.88M164.82 803.84L409.34 677.13M155.69 785.25L405.45 669.21M147.37 766.29L401.9 661.13M139.88 746.98L398.71 652.9M133.23 727.37L395.87 644.54M127.42 707.49L393.4 636.06M122.49 687.38L391.3 627.49M118.42 667.07L389.56 618.84M115.23 646.61L388.2 610.11M112.93 626.03L387.22 601.34M111.52 605.37L386.62 592.53M111 584.66L386.4 583.71M111.38 563.96L386.56 574.88M112.65 543.29L387.1 566.07M114.8 522.69L388.02 557.29M117.85 502.21L389.32 548.56M121.77 481.87L390.99 539.89M126.57 461.73L393.04 531.31M132.24 441.81L395.45 522.82M138.75 422.15L398.23 514.44M146.11 402.79L401.37 506.19M154.3 383.77L404.86 498.08M163.3 365.12L408.69 490.13M173.1 346.87L412.87 482.35M183.67 329.07L417.38 474.76M195 311.73L422.21 467.37M207.07 294.9L427.35 460.2M219.86 278.61L432.8 453.25M233.33 262.89L438.54 446.55M247.47 247.76L444.57 440.1M262.25 233.25L450.87 433.92M277.64 219.4L457.43 428.01M293.62 206.22L464.24 422.4M310.15 193.74L471.29 417.08M327.2 181.99L478.56 412.07M344.74 170.98L486.03 407.38M362.74 160.74L493.71 403.01M381.17 151.29L501.56 398.98M399.99 142.64L509.58 395.3M419.16 134.81L517.75 391.96M438.65 127.82L526.06 388.98M458.43 121.67L534.49 386.36M478.45 116.38L543.03 384.1M498.68 111.96L551.65 382.22M519.09 108.42L560.35 380.71M539.62 105.76L569.1 379.58M560.26 103.99L577.9 378.82M580.95 103.11L586.72 378.44M831 167.31A480 480 0 1 1 580.95 103.11M808.05 207.06A434.1 434.1 0 1 1 581.91 149M785.1 246.81A388.2 388.2 0 1 1 582.87 194.89M762.15 286.56A342.3 342.3 0 1 1 583.83 240.78M739.2 326.31A296.4 296.4 0 1 1 584.79 286.67M716.25 366.06A250.5 250.5 0 1 1 585.75 332.55M693.3 405.81A204.6 204.6 0 1 1 586.72 378.44"/>
</g>
<path d="M732 508.17L730.12 509.17M502.26 716.75L503.93 714.24M730.12 509.17A157.5 157.5 0 0 1 503.93 714.24M692.63 451.26L688.5 456.61M752.45 572.97L750.32 573.1M688.5 456.61A159.63 159.63 0 0 1 750.32 573.1M697.1 408.06L677.28 440.73M708.19 461.9L706.71 463.43M677.28 440.73A166.39 166.39 0 0 1 706.71 463.43M691.47 439.22L687.52 444.86M727.6 480.72L725.9 482M687.52 444.86A168.52 168.52 0 0 1 725.9 482M704.55 412.8L688.34 437.09M711.78 417.85L694.54 441.42M688.34 437.09A175.4 175.4 0 0 1 694.54 441.42M714 456.58L710 460.69M743.75 502.25L741.87 503.25M710 460.69A170.65 170.65 0 0 1 741.87 503.25M711.16 442.34L705.57 448.89M723.5 463.37L721.92 464.8M705.57 448.89A176.38 176.38 0 0 1 721.92 464.8M718.79 423.22L706.55 438.53M721.66 439.72L715.65 446.3M706.55 438.53A185 185 0 0 1 715.65 446.3M725.57 428.88L718.54 436.93M732.09 434.83L724.72 442.57M718.54 436.93A193.91 193.91 0 0 1 724.72 442.57M738.35 441.05L719.56 459.15M731.45 464.21L727.3 467.72M719.56 459.15A178.51 178.51 0 0 1 727.3 467.72M744.33 447.54L728.86 461.21M750.03 454.28L733.98 467.27M728.86 461.21A183.95 183.95 0 0 1 733.98 467.27M740.02 486.94L736.22 489.39M752.1 514.89L750.14 515.72M736.22 489.39A172.78 172.78 0 0 1 750.14 515.72M740.33 477.35L735.74 480.6M758.62 484.92L744.03 493.46M735.74 480.6A177.3 177.3 0 0 1 744.03 493.46M755.44 461.26L738.02 474.15M760.54 468.46L742.58 480.6M738.02 474.15A182.93 182.93 0 0 1 742.58 480.6M765.32 475.88L756.46 481.33M769.78 483.5L760.69 488.56M756.46 481.33A194.2 194.2 0 0 1 760.69 488.56M756.57 504.42L749.01 508.01M757.62 520.88L754.89 521.9M749.01 508.01A174.91 174.91 0 0 1 754.89 521.9M773.9 491.31L754.84 500.86M777.69 499.28L758.23 508.01M754.84 500.86A183.27 183.27 0 0 1 758.23 508.01M781.13 507.41L756.24 517.3M784.21 515.68L758.92 524.49M756.24 517.3A177.82 177.82 0 0 1 758.92 524.49M750.36 544.76L748.29 545.26M755.01 601.34L751.76 600.98M748.29 545.26A161.76 161.76 0 0 1 751.76 600.98M786.93 524.08L747.94 535.8M756.81 553.02L752.27 553.84M747.94 535.8A163.89 163.89 0 0 1 752.27 553.84M757.23 544.53L755.16 545.01M762.78 560.49L758.07 561.11M755.16 545.01A168.5 168.5 0 0 1 758.07 561.11M789.29 532.59L756.37 540.96M791.28 541.19L758.02 548.13M756.37 540.96A170.63 170.63 0 0 1 758.02 548.13M792.9 549.86L761.96 554.94M765.54 565.85L763.42 566.06M761.96 554.94A173.25 173.25 0 0 1 763.42 566.06M794.14 558.6L765.13 562.09M795 567.39L765.87 569.62M765.13 562.09A175.38 175.38 0 0 1 765.87 569.62M795.49 576.2L755.94 577.52M754.83 625.87L750.65 624.78M755.94 577.52A165.03 165.03 0 0 1 750.65 624.78M762 595.79L759.88 595.63M746.54 655.71L744.42 654.71M759.88 595.63A169.35 169.35 0 0 1 744.42 654.71M775.63 588.82L762.39 588.4M764.13 603.49L761.29 603.15M762.39 588.4A171.48 171.48 0 0 1 761.29 603.15M795.59 585.03L775.72 584.83M795.31 593.85L775.47 592.8M775.72 584.83A184.73 184.73 0 0 1 775.47 592.8M794.65 602.66L764.53 599.75M793.62 611.42L763.65 607.22M764.53 599.75A174.34 174.34 0 0 1 763.65 607.22M758.6 632.1L755.77 631.27M735.48 679.65L733.71 678.46M755.77 631.27A171.7 171.7 0 0 1 733.71 678.46M763.67 624.61L760.78 623.91M765.2 643.35L756.02 640.17M760.78 623.91A174.64 174.64 0 0 1 756.02 640.17M767.98 619.63L764.93 619M788.25 637.34L762.24 630.17M764.93 619A177.62 177.62 0 0 1 762.24 630.17M792.2 620.13L768.73 615.8M790.41 628.78L767.15 623.44M768.73 615.8A180.73 180.73 0 0 1 767.15 623.44M785.73 645.8L766.46 639.58M782.84 654.14L763.86 647.1M766.46 639.58A184.36 184.36 0 0 1 763.86 647.1M748.43 661.58L746.53 660.63M725.96 700.44L722.13 697.11M746.53 660.63A173.83 173.83 0 0 1 722.13 697.11M754.19 655.84L751.68 654.72M752.11 672.3L744.9 668.3M751.68 654.72A175.96 175.96 0 0 1 744.9 668.3M779.59 662.35L755.72 652.3M775.99 670.41L752.58 659.35M755.72 652.3A178.71 178.71 0 0 1 752.58 659.35M772.05 678.3L753.99 668.8M767.77 686.02L750.14 675.75M753.99 668.8A184.2 184.2 0 0 1 750.14 675.75M740.69 689.73L736.67 686.86M715.44 714.48L713.98 712.93M736.67 686.86A178.9 178.9 0 0 1 713.98 712.93M763.16 693.55L745.69 682.34M737.11 698.26L735.34 696.86M745.69 682.34A183.84 183.84 0 0 1 735.34 696.86M743.7 695.64L740.76 693.47M747.45 714.85L733.3 702.93M740.76 693.47A186.1 186.1 0 0 1 733.3 702.93M758.23 700.88L746.09 692.32M752.99 707.98L741.23 698.91M746.09 692.32A189.75 189.75 0 0 1 741.23 698.91M741.62 721.48L724.27 705.53M707.37 724.44L706.02 722.79M724.27 705.53A181.03 181.03 0 0 1 706.02 722.79M735.5 727.84L720.36 712.67M694.51 736.68L693.32 734.91M720.36 712.67A183.16 183.16 0 0 1 693.32 734.91M705.93 731.04L704.63 729.36M693.61 760.01L683.92 743.3M704.63 729.36A185.29 185.29 0 0 1 683.92 743.3M720.83 731.18L714.51 723.96M698.68 740.11L696.95 737.59M714.51 723.96A187.42 187.42 0 0 1 696.95 737.59M729.12 733.94L724 728.35M722.48 739.76L717.61 733.95M724 728.35A197.01 197.01 0 0 1 717.61 733.95M706.56 740.44L703.71 736.55M701.15 755.42L693.54 743.52M703.71 736.55A190.47 190.47 0 0 1 693.54 743.52M715.6 745.29L709.93 737.91M708.48 750.51L703.14 742.9M709.93 737.91A195.3 195.3 0 0 1 703.14 742.9M618.2 743.35L617.84 741.25M432.31 620.36L434.76 619.78M617.84 741.25A160.51 160.51 0 0 1 434.76 619.78M657.63 735.43L656.14 732.02M578.45 747.67L578.64 745.17M656.14 732.02A162.64 162.64 0 0 1 578.64 745.17M685.88 764.27L668.14 730.39M648.6 744.83L646.78 739.72M668.14 730.39A166.35 166.35 0 0 1 646.78 739.72M660.63 744.68L658.95 740.76M638.76 750.83L638.01 748.21M658.95 740.76A171.77 171.77 0 0 1 638.01 748.21M677.97 768.2L665.83 742.34M657.08 751.21L655.37 746.85M665.83 742.34A176.04 176.04 0 0 1 655.37 746.85M669.9 771.78L660.69 749.74M661.68 775L653.43 752.59M660.69 749.74A180.72 180.72 0 0 1 653.43 752.59M653.34 777.87L644.16 749.19M633.82 754.35L633.3 752.28M644.16 749.19A174.49 174.49 0 0 1 633.3 752.28M644.87 780.38L637.5 753.39M636.31 782.52L630.11 755.23M637.5 753.39A176.62 176.62 0 0 1 630.11 755.23M604.95 750.52L604.7 747.58M550.84 750.61L552.52 743.6M604.7 747.58A165.15 165.15 0 0 1 552.52 743.6M619.12 758.81L617.54 748.99M592.29 753.22L592.27 751.09M617.54 748.99A168.1 168.1 0 0 1 592.27 751.09M627.66 784.29L622.9 758.16M618.94 785.68L615.32 759.37M622.9 758.16A178.04 178.04 0 0 1 615.32 759.37M603.83 760.13L603.29 752.78M581.15 755.08L581.27 752.95M603.29 752.78A170.23 170.23 0 0 1 581.27 752.95M610.17 786.7L607.64 759.81M601.37 787.34L600 760.36M607.64 759.81A177.59 177.59 0 0 1 600 760.36M588.42 767.12L588.58 755.34M573.53 756.61L573.74 754.49M588.58 755.34A172.36 172.36 0 0 1 573.74 754.49M592.55 787.59L592.39 767.13M583.72 787.47L584.45 767.02M592.39 767.13A184.14 184.14 0 0 1 584.45 767.02M574.91 786.97L577.28 756.95M566.12 786.08L569.79 756.19M577.28 756.95A174.49 174.49 0 0 1 569.79 756.19M556.11 767.8L559.02 752.36M542.16 750.51L542.76 748.46M559.02 752.36A172.35 172.35 0 0 1 542.76 748.46M557.39 784.82L560.1 768.51M548.71 783.18L552.13 767M560.1 768.51A188.06 188.06 0 0 1 552.13 767M540.12 781.17L547.61 752M533.33 759.36L536.77 748.84M547.61 752A174.48 174.48 0 0 1 536.77 748.84M531.62 778.79L537.15 760.56M523.23 776.05L529.54 758.08M537.15 760.56A185.55 185.55 0 0 1 529.54 758.08M468.74 694.04L470.31 692.6M423.88 535.87L434.09 538.75M470.31 692.6A163.03 163.03 0 0 1 434.09 538.75M486.76 713.84L488.09 712.18M448.79 675.47L452.54 673.03M488.09 712.18A165.16 165.16 0 0 1 452.54 673.03M497.16 724.05L498.34 722.28M470.75 709.95L475.96 704.45M498.34 722.28A167.29 167.29 0 0 1 475.96 704.45M510.06 734.25L511.07 732.38M461.9 741.73L484.1 714.43M511.07 732.38A169.42 169.42 0 0 1 484.1 714.43M515.87 744.81L518.75 738.59M500.11 731.92L501.63 729.43M518.75 738.59A171.55 171.55 0 0 1 501.63 729.43M519.72 750.49L521.14 747.15M498.88 765.69L510.67 742.29M521.14 747.15A178.4 178.4 0 0 1 510.67 742.29M514.96 772.95L523.35 751.99M506.84 769.49L516.12 748.92M523.35 751.99A182.03 182.03 0 0 1 516.12 748.92M491.08 761.54L505.8 735.24M493.38 730.16L494.56 728.38M505.8 735.24A174.46 174.46 0 0 1 494.56 728.38M483.47 757.07L498.19 733.24M485.14 731.88L488.67 726.92M498.19 733.24A176.59 176.59 0 0 1 488.67 726.92M476.06 752.27L488.38 734.13M468.87 747.15L481.96 729.56M488.38 734.13A182.68 182.68 0 0 1 481.96 729.56M455.18 736.01L474.92 713.77M462.83 709.83L466.71 705.99M474.92 713.77A174.86 174.86 0 0 1 466.71 705.99M448.7 730.01L465.59 712.56M442.49 723.74L460.12 707.03M465.59 712.56A180.31 180.31 0 0 1 460.12 707.03M456.73 690.47L458.56 689M432.58 665.09L440.39 661.05M458.56 689A169.63 169.63 0 0 1 440.39 661.05M436.56 717.2L461.18 695.81M450.77 686.21L452.49 684.95M461.18 695.81A171.98 171.98 0 0 1 452.49 684.95M430.92 710.41L454.77 691.43M442.5 683.88L446.98 680.84M454.77 691.43A174.11 174.11 0 0 1 446.98 680.84M425.57 703.39L445.85 688.63M437.52 680.16L439.32 679.03M445.85 688.63A179.52 179.52 0 0 1 439.32 679.03M420.53 696.14L439.65 683.45M415.81 688.69L435.46 676.83M439.65 683.45A181.65 181.65 0 0 1 435.46 676.83M411.41 681.03L434.39 668.49M407.35 673.19L430.85 661.65M434.39 668.49A178.43 178.43 0 0 1 430.85 661.65M420.77 626.75L422.83 626.22M467.8 455.81L470.19 458.28M422.83 626.22A173.64 173.64 0 0 1 470.19 458.28M422.47 643.23L425.49 642.15M415.32 611.33L417.48 610.98M425.49 642.15A175.76 175.76 0 0 1 417.48 610.98M415.32 655.58L425.59 651.34M412.27 637.25L419.74 634.99M425.59 651.34A178.97 178.97 0 0 1 419.74 634.99M403.63 665.19L416.93 659.36M400.26 657.03L413.79 651.78M416.93 659.36A190.08 190.08 0 0 1 413.79 651.78M397.25 648.73L414.12 643.01M405.58 632.79L410.61 631.44M414.12 643.01A186.78 186.78 0 0 1 410.61 631.44M394.59 640.31L406.7 636.78M392.3 631.79L404.55 628.78M406.7 636.78A191.99 191.99 0 0 1 404.55 628.78M390.38 623.17L416.52 617.94M409.58 605.27L414.38 604.68M416.52 617.94A177.95 177.95 0 0 1 414.38 604.68M388.84 614.48L410.39 611.12M405.43 599.7L408.95 599.38M410.39 611.12A182.78 182.78 0 0 1 408.95 599.38M387.67 605.73L405.83 603.7M386.88 596.94L405.11 595.69M405.83 603.7A186.32 186.32 0 0 1 405.11 595.69M424.21 517.46L426.19 518.24M529.63 410.91L531.52 416.21M426.19 518.24A177.08 177.08 0 0 1 531.52 416.21M411.54 556.95L413.65 557.25M436.82 476.46L443.57 481.13M413.65 557.25A179.21 179.21 0 0 1 443.57 481.13M407.54 581.66L409.67 581.67M414.58 532.07L416.78 532.71M409.67 581.67A181.34 181.34 0 0 1 416.78 532.71M386.46 588.12L407.59 587.59M404.85 575.61L407.68 575.72M407.59 587.59A183.47 183.47 0 0 1 407.68 575.72M386.43 579.3L404.73 579.63M386.78 570.47L405.05 571.59M404.73 579.63A186.3 186.3 0 0 1 405.05 571.59M407.81 552.23L409.91 552.58M413.84 509L421.56 512.23M409.91 552.58A183.62 183.62 0 0 1 421.56 512.23M387.51 561.68L406.26 563.64M408 540.45L410.07 540.93M406.26 563.64A185.75 185.75 0 0 1 410.07 540.93M403.7 551.02L405.8 551.38M406.69 528.44L410.84 529.67M405.8 551.38A187.88 187.88 0 0 1 410.84 529.67M388.62 552.92L403.05 555.06M390.11 544.22L404.43 546.98M403.05 555.06A190.01 190.01 0 0 1 404.43 546.98M402.49 533.78L405.02 534.44M396.8 518.61L408.55 522.51M405.02 534.44A192.22 192.22 0 0 1 408.55 522.51M391.97 535.59L401.47 537.85M394.2 527.05L403.6 529.72M401.47 537.85A194.83 194.83 0 0 1 403.6 529.72M399.75 510.29L411.54 514.77M412.29 501.47L416.32 503.31M411.54 514.77A192 192 0 0 1 416.32 503.31M403.07 502.11L410.58 505.35M406.73 494.08L414.1 497.64M410.58 505.35A196.42 196.42 0 0 1 414.1 497.64M424.3 488.81L427.83 490.81M445.39 461.59L447.06 462.99M427.83 490.81A187.41 187.41 0 0 1 447.06 462.99M410.74 486.22L422.31 492.43M415.08 478.53L426.38 485.24M422.31 492.43A191.46 191.46 0 0 1 426.38 485.24M433.69 471.45L436.35 473.34M452.11 447.46L455.32 450.59M436.35 473.34A189.59 189.59 0 0 1 455.32 450.59M419.75 471.04L429.59 477.47M436.32 464.3L438.01 465.6M429.59 477.47A192.85 192.85 0 0 1 438.01 465.6M424.74 463.76L432.56 469.37M438.49 457.92L440.24 459.36M432.56 469.37A194.98 194.98 0 0 1 440.24 459.36M430.04 456.7L435.83 461.24M435.64 449.87L441.22 454.66M435.83 461.24A197.24 197.24 0 0 1 441.22 454.66M441.52 443.29L449.22 450.49M447.69 436.98L455.07 444.5M449.22 450.49A194.06 194.06 0 0 1 455.07 444.5M492.14 426.82L493.28 428.62M568.48 397.33L569 401.62M493.28 428.62A182.71 182.71 0 0 1 569 401.62M472.89 433.35L476.49 437.91M507.91 415.51L508.86 417.42M476.49 437.91A184.83 184.83 0 0 1 508.86 417.42M462.41 433.79L466.54 438.58M478.21 426.67L479.45 428.39M466.54 438.58A190.65 190.65 0 0 1 479.45 428.39M454.12 430.93L459.23 436.6M460.81 425.17L465.66 431.06M459.23 436.6A196.97 196.97 0 0 1 465.66 431.06M467.74 419.7L474.86 429.14M474.89 414.53L481.6 424.27M474.86 429.14A192.78 192.78 0 0 1 481.6 424.27M489.93 413.9L495.08 422.52M520.46 407.56L521.25 409.53M495.08 422.52A186.96 186.96 0 0 1 521.25 409.53M482.27 409.68L486.31 416.12M489.85 405.15L493.6 411.76M486.31 416.12A197 197 0 0 1 493.6 411.76M509.27 410.12L510.18 412.05M528.91 397.48L530.98 403.68M510.18 412.05A189.09 189.09 0 0 1 530.98 403.68M497.61 400.96L503.72 412.86M514.06 405.62L514.9 407.57M503.72 412.86A191.22 191.22 0 0 1 514.9 407.57M505.55 397.1L510.25 407.32M513.65 393.59L517.9 404M510.25 407.32A193.35 193.35 0 0 1 517.9 404M521.89 390.42L524.92 398.86M530.26 387.62L532.92 396.18M524.92 398.86A195.64 195.64 0 0 1 532.92 396.18M557.63 396.8L558 398.9M578.49 388.04L579.02 396.35M558 398.9A187.04 187.04 0 0 1 579.02 396.35M548.1 396.35L548.63 398.64M564.72 380.1L566.7 395.4M548.63 398.64A189.16 189.16 0 0 1 566.7 395.4M538.75 385.19L542.09 397.83M553.71 392.72L554.17 395.06M542.09 397.83A191.52 191.52 0 0 1 554.17 395.06M547.33 383.12L549.61 393.57M555.99 381.42L557.82 391.96M549.61 393.57A193.9 193.9 0 0 1 557.82 391.96M573.49 379.15L574.28 388.35M582.3 378.58L582.7 387.81M574.28 388.35A195.36 195.36 0 0 1 582.7 387.81" fill="none" stroke="#231815" stroke-width="1.7" stroke-linejoin="miter" stroke-linecap="square"/>
<g font-family="'Liberation Serif','Times New Roman',serif" font-style="italic" font-size="16.6" fill="#161212">
<text transform="translate(842.87 167.71) rotate(-58.76)" dy="0.3em">CmoNAC120</text>
<text transform="translate(860.55 178.96) rotate(-56.29)" dy="0.3em">CmoNAC044</text>
<text transform="translate(877.72 190.96) rotate(-53.82)" dy="0.3em">CmoNAC100</text>
<text transform="translate(894.37 203.69) rotate(-51.35)" dy="0.3em">CmoNAC038</text>
<text transform="translate(910.45 217.13) rotate(-48.88)" dy="0.3em">CmoNAC039</text>
<text transform="translate(925.93 231.25) rotate(-46.4)" dy="0.3em">CmoNAC098</text>
<text transform="translate(940.79 246.03) rotate(-43.93)" dy="0.3em">CmoNAC043</text>
<text transform="translate(955 261.43) rotate(-41.46)" dy="0.3em">CmoNAC099</text>
<text transform="translate(968.53 277.43) rotate(-38.99)" dy="0.3em">CmoNAC095</text>
<text transform="translate(981.36 294) rotate(-36.51)" dy="0.3em">CmoNAC085</text>
<text transform="translate(993.46 311.1) rotate(-34.04)" dy="0.3em">CmoNAC112</text>
<text transform="translate(1004.82 328.72) rotate(-31.57)" dy="0.3em">CmoNAC015</text>
<text transform="translate(1015.4 346.8) rotate(-29.1)" dy="0.3em">CmoNAC117</text>
<text transform="translate(1025.19 365.33) rotate(-26.63)" dy="0.3em">CmoNAC045</text>
<text transform="translate(1034.18 384.26) rotate(-24.15)" dy="0.3em">CmoNAC056</text>
<text transform="translate(1042.34 403.56) rotate(-21.68)" dy="0.3em">CmoNAC103</text>
<text transform="translate(1049.66 423.2) rotate(-19.21)" dy="0.3em">CmoNAC116</text>
<text transform="translate(1056.12 443.13) rotate(-16.74)" dy="0.3em">CmoNAC013</text>
<text transform="translate(1061.72 463.32) rotate(-14.26)" dy="0.3em">CmoNAC047</text>
<text transform="translate(1066.45 483.74) rotate(-11.79)" dy="0.3em">CmoNAC133</text>
<text transform="translate(1070.29 504.34) rotate(-9.32)" dy="0.3em">CmoNAC058</text>
<text transform="translate(1073.23 525.09) rotate(-6.85)" dy="0.3em">CmoNAC009</text>
<text transform="translate(1075.28 545.94) rotate(-4.38)" dy="0.3em">CmoNAC027</text>
<text transform="translate(1076.43 566.86) rotate(-1.9)" dy="0.3em">CmoNAC042</text>
<text transform="translate(1076.68 587.82) rotate(0.57)" dy="0.3em">CmoNAC066</text>
<text transform="translate(1076.02 608.76) rotate(3.04)" dy="0.3em">CmoNAC110</text>
<text transform="translate(1074.45 629.66) rotate(5.51)" dy="0.3em">CmoNAC023</text>
<text transform="translate(1071.99 650.47) rotate(7.98)" dy="0.3em">CmoNAC041</text>
<text transform="translate(1068.63 671.15) rotate(10.46)" dy="0.3em">CmoNAC087</text>
<text transform="translate(1064.39 691.67) rotate(12.93)" dy="0.3em">CmoNAC127</text>
<text transform="translate(1059.26 711.99) rotate(15.4)" dy="0.3em">CmoNAC113</text>
<text transform="translate(1053.26 732.07) rotate(17.87)" dy="0.3em">CmoNAC064</text>
<text transform="translate(1046.4 751.87) rotate(20.35)" dy="0.3em">CmoNAC096</text>
<text transform="translate(1038.69 771.36) rotate(22.82)" dy="0.3em">CmoNAC012</text>
<text transform="translate(1030.15 790.49) rotate(25.29)" dy="0.3em">CmoNAC065</text>
<text transform="translate(1020.79 809.24) rotate(27.76)" dy="0.3em">CmoNAC053</text>
<text transform="translate(1010.63 827.57) rotate(30.23)" dy="0.3em">CmoNAC081</text>
<text transform="translate(999.69 845.44) rotate(32.71)" dy="0.3em">CmoNAC118</text>
<text transform="translate(987.99 862.83) rotate(35.18)" dy="0.3em">CmoNAC029</text>
<text transform="translate(975.55 879.69) rotate(37.65)" dy="0.3em">CmoNAC054</text>
<text transform="translate(962.4 896) rotate(40.12)" dy="0.3em">CmoNAC092</text>
<text transform="translate(948.55 911.73) rotate(42.6)" dy="0.3em">CmoNAC126</text>
<text transform="translate(934.04 926.85) rotate(45.07)" dy="0.3em">CmoNAC037</text>
<text transform="translate(918.89 941.32) rotate(47.54)" dy="0.3em">CmoNAC046</text>
<text transform="translate(903.12 955.13) rotate(50.01)" dy="0.3em">CmoNAC060</text>
<text transform="translate(886.78 968.25) rotate(52.48)" dy="0.3em">CmoNAC005</text>
<text transform="translate(869.89 980.65) rotate(54.96)" dy="0.3em">CmoNAC006</text>
<text transform="translate(852.48 992.31) rotate(57.43)" dy="0.3em">CmoNAC063</text>
<text transform="translate(834.58 1003.21) rotate(59.9)" dy="0.3em">CmoNAC123</text>
<text transform="translate(816.23 1013.32) rotate(62.37)" dy="0.3em">CmoNAC017</text>
<text transform="translate(797.45 1022.64) rotate(64.85)" dy="0.3em">CmoNAC018</text>
<text transform="translate(778.3 1031.13) rotate(67.32)" dy="0.3em">CmoNAC004</text>
<text transform="translate(758.8 1038.8) rotate(69.79)" dy="0.3em">CmoNAC070</text>
<text transform="translate(738.98 1045.61) rotate(72.26)" dy="0.3em">CmoNAC129</text>
<text transform="translate(718.89 1051.56) rotate(74.73)" dy="0.3em">CmoNAC040</text>
<text transform="translate(698.56 1056.64) rotate(77.21)" dy="0.3em">CmoNAC119</text>
<text transform="translate(678.03 1060.84) rotate(79.68)" dy="0.3em">CmoNAC007</text>
<text transform="translate(657.33 1064.15) rotate(82.15)" dy="0.3em">CmoNAC084</text>
<text transform="translate(636.52 1066.56) rotate(84.62)" dy="0.3em">CmoNAC073</text>
<text transform="translate(615.62 1068.08) rotate(87.09)" dy="0.3em">CmoNAC077</text>
<text transform="translate(594.67 1068.69) rotate(89.57)" dy="0.3em">CmoNAC109</text>
<text transform="translate(573.55 1073.19) rotate(272.04)" dy="0.34em" text-anchor="end">CmoNAC111</text>
<text transform="translate(552.42 1071.98) rotate(274.51)" dy="0.34em" text-anchor="end">CmoNAC062</text>
<text transform="translate(531.36 1069.86) rotate(276.98)" dy="0.34em" text-anchor="end">CmoNAC086</text>
<text transform="translate(510.42 1066.84) rotate(279.46)" dy="0.34em" text-anchor="end">CmoNAC048</text>
<text transform="translate(489.62 1062.91) rotate(281.93)" dy="0.34em" text-anchor="end">CmoNAC105</text>
<text transform="translate(469.02 1058.09) rotate(284.4)" dy="0.34em" text-anchor="end">CmoNAC001</text>
<text transform="translate(448.64 1052.39) rotate(286.87)" dy="0.34em" text-anchor="end">CmoNAC010</text>
<text transform="translate(428.52 1045.81) rotate(289.34)" dy="0.34em" text-anchor="end">CmoNAC067</text>
<text transform="translate(408.71 1038.37) rotate(291.82)" dy="0.34em" text-anchor="end">CmoNAC008</text>
<text transform="translate(389.24 1030.08) rotate(294.29)" dy="0.34em" text-anchor="end">CmoNAC003</text>
<text transform="translate(370.14 1020.96) rotate(296.76)" dy="0.34em" text-anchor="end">CmoNAC052</text>
<text transform="translate(351.46 1011.03) rotate(299.23)" dy="0.34em" text-anchor="end">CmoNAC026</text>
<text transform="translate(333.22 1000.3) rotate(301.71)" dy="0.34em" text-anchor="end">CmoNAC090</text>
<text transform="translate(315.46 988.79) rotate(304.18)" dy="0.34em" text-anchor="end">CmoNAC083</text>
<text transform="translate(298.21 976.53) rotate(306.65)" dy="0.34em" text-anchor="end">CmoNAC102</text>
<text transform="translate(281.51 963.53) rotate(309.12)" dy="0.34em" text-anchor="end">CmoNAC108</text>
<text transform="translate(265.38 949.83) rotate(311.59)" dy="0.34em" text-anchor="end">CmoNAC076</text>
<text transform="translate(249.86 935.44) rotate(314.07)" dy="0.34em" text-anchor="end">CmoNAC068</text>
<text transform="translate(234.98 920.4) rotate(316.54)" dy="0.34em" text-anchor="end">CmoNAC132</text>
<text transform="translate(220.76 904.73) rotate(319.01)" dy="0.34em" text-anchor="end">CmoNAC049</text>
<text transform="translate(207.22 888.46) rotate(321.48)" dy="0.34em" text-anchor="end">CmoNAC093</text>
<text transform="translate(194.4 871.62) rotate(323.95)" dy="0.34em" text-anchor="end">CmoNAC106</text>
<text transform="translate(182.32 854.25) rotate(326.43)" dy="0.34em" text-anchor="end">CmoNAC022</text>
<text transform="translate(171 836.37) rotate(328.9)" dy="0.34em" text-anchor="end">CmoNAC034</text>
<text transform="translate(160.47 818.01) rotate(331.37)" dy="0.34em" text-anchor="end">CmoNAC020</text>
<text transform="translate(150.73 799.22) rotate(333.84)" dy="0.34em" text-anchor="end">CmoNAC036</text>
<text transform="translate(141.81 780.03) rotate(336.32)" dy="0.34em" text-anchor="end">CmoNAC121</text>
<text transform="translate(133.73 760.47) rotate(338.79)" dy="0.34em" text-anchor="end">CmoNAC124</text>
<text transform="translate(126.5 740.58) rotate(341.26)" dy="0.34em" text-anchor="end">CmoNAC014</text>
<text transform="translate(120.14 720.4) rotate(343.73)" dy="0.34em" text-anchor="end">CmoNAC033</text>
<text transform="translate(114.65 699.96) rotate(346.2)" dy="0.34em" text-anchor="end">CmoNAC050</text>
<text transform="translate(110.05 679.31) rotate(348.68)" dy="0.34em" text-anchor="end">CmoNAC061</text>
<text transform="translate(106.34 658.47) rotate(351.15)" dy="0.34em" text-anchor="end">CmoNAC128</text>
<text transform="translate(103.54 637.5) rotate(353.62)" dy="0.34em" text-anchor="end">CmoNAC011</text>
<text transform="translate(101.64 616.42) rotate(356.09)" dy="0.34em" text-anchor="end">CmoNAC030</text>
<text transform="translate(100.65 595.28) rotate(358.57)" dy="0.34em" text-anchor="end">CmoNAC130</text>
<text transform="translate(100.58 574.12) rotate(361.04)" dy="0.34em" text-anchor="end">CmoNAC028</text>
<text transform="translate(101.42 552.97) rotate(363.51)" dy="0.34em" text-anchor="end">CmoNAC069</text>
<text transform="translate(103.17 531.88) rotate(365.98)" dy="0.34em" text-anchor="end">CmoNAC021</text>
<text transform="translate(105.83 510.89) rotate(368.45)" dy="0.34em" text-anchor="end">CmoNAC016</text>
<text transform="translate(109.39 490.03) rotate(370.93)" dy="0.34em" text-anchor="end">CmoNAC075</text>
<text transform="translate(113.85 469.34) rotate(373.4)" dy="0.34em" text-anchor="end">CmoNAC094</text>
<text transform="translate(119.2 448.86) rotate(375.87)" dy="0.34em" text-anchor="end">CmoNAC071</text>
<text transform="translate(125.42 428.64) rotate(378.34)" dy="0.34em" text-anchor="end">CmoNAC072</text>
<text transform="translate(132.51 408.7) rotate(380.82)" dy="0.34em" text-anchor="end">CmoNAC097</text>
<text transform="translate(140.46 389.09) rotate(383.29)" dy="0.34em" text-anchor="end">CmoNAC089</text>
<text transform="translate(149.24 369.83) rotate(385.76)" dy="0.34em" text-anchor="end">CmoNAC091</text>
<text transform="translate(158.85 350.98) rotate(388.23)" dy="0.34em" text-anchor="end">CmoNAC125</text>
<text transform="translate(169.26 332.55) rotate(390.7)" dy="0.34em" text-anchor="end">CmoNAC080</text>
<text transform="translate(180.45 314.59) rotate(393.18)" dy="0.34em" text-anchor="end">CmoNAC131</text>
<text transform="translate(192.41 297.13) rotate(395.65)" dy="0.34em" text-anchor="end">CmoNAC059</text>
<text transform="translate(205.12 280.21) rotate(398.12)" dy="0.34em" text-anchor="end">CmoNAC122</text>
<text transform="translate(218.54 263.84) rotate(400.59)" dy="0.34em" text-anchor="end">CmoNAC051</text>
<text transform="translate(232.65 248.08) rotate(403.06)" dy="0.34em" text-anchor="end">CmoNAC002</text>
<text transform="translate(247.43 232.93) rotate(405.54)" dy="0.34em" text-anchor="end">CmoNAC104</text>
<text transform="translate(262.85 218.44) rotate(408.01)" dy="0.34em" text-anchor="end">CmoNAC055</text>
<text transform="translate(278.88 204.62) rotate(410.48)" dy="0.34em" text-anchor="end">CmoNAC057</text>
<text transform="translate(295.49 191.51) rotate(412.95)" dy="0.34em" text-anchor="end">CmoNAC078</text>
<text transform="translate(312.65 179.13) rotate(415.43)" dy="0.34em" text-anchor="end">CmoNAC088</text>
<text transform="translate(330.33 167.5) rotate(417.9)" dy="0.34em" text-anchor="end">CmoNAC024</text>
<text transform="translate(348.5 156.64) rotate(420.37)" dy="0.34em" text-anchor="end">CmoNAC101</text>
<text transform="translate(367.11 146.58) rotate(422.84)" dy="0.34em" text-anchor="end">CmoNAC019</text>
<text transform="translate(386.15 137.33) rotate(425.31)" dy="0.34em" text-anchor="end">CmoNAC032</text>
<text transform="translate(405.56 128.9) rotate(427.79)" dy="0.34em" text-anchor="end">CmoNAC115</text>
<text transform="translate(425.32 121.33) rotate(430.26)" dy="0.34em" text-anchor="end">CmoNAC074</text>
<text transform="translate(445.39 114.61) rotate(432.73)" dy="0.34em" text-anchor="end">CmoNAC082</text>
<text transform="translate(465.73 108.77) rotate(435.2)" dy="0.34em" text-anchor="end">CmoNAC035</text>
<text transform="translate(486.3 103.8) rotate(437.68)" dy="0.34em" text-anchor="end">CmoNAC025</text>
<text transform="translate(507.07 99.73) rotate(440.15)" dy="0.34em" text-anchor="end">CmoNAC079</text>
<text transform="translate(527.99 96.56) rotate(442.62)" dy="0.34em" text-anchor="end">CmoNAC031</text>
<text transform="translate(549.03 94.3) rotate(445.09)" dy="0.34em" text-anchor="end">CmoNAC107</text>
<text transform="translate(570.15 92.94) rotate(447.56)" dy="0.34em" text-anchor="end">CmoNAC114</text>
</g>
<g font-family="'Liberation Serif','Times New Roman',serif" font-size="17" fill="#161212" text-anchor="middle">
<text x="605" y="130.2" font-size="16.5">0</text><text x="606.5" y="181.8" font-size="16.5">75</text>
<text x="608" y="223.5">R</text>
<text x="608" y="271.2">F</text>
<text x="608" y="313.7">S</text>
<text x="608" y="360.6">L</text>
</g>
<g stroke="#111" stroke-width="2.4" stroke-linecap="round"><line x1="636.3" y1="116.5" x2="633.7" y2="182"/><line x1="632.2" y1="210.5" x2="626.9" y2="365.5"/></g>
<g font-family="'Liberation Serif','Times New Roman',serif" font-size="22" fill="#161212" text-anchor="middle">
<text x="671.5" y="146.8">Salt</text><text x="672.4" y="174">stress</text><text transform="translate(676 290.6) rotate(1.8)" font-size="21.5">Tissues</text>
</g>
<defs><linearGradient id="lg" x1="0" x2="1" y1="0" y2="0">
<stop offset="0.0000" stop-color="#3b76bc"/>
<stop offset="0.1429" stop-color="#3a95d3"/>
<stop offset="0.2857" stop-color="#6bb5e4"/>
<stop offset="0.4286" stop-color="#bcddf5"/>
<stop offset="0.5190" stop-color="#ffffff"/>
<stop offset="0.5714" stop-color="#fadadd"/>
<stop offset="0.7143" stop-color="#ea8a96"/>
<stop offset="0.8571" stop-color="#dc3c49"/>
<stop offset="1.0000" stop-color="#d42e30"/>
</linearGradient></defs>
<rect x="403" y="1187" width="373" height="44.5" fill="url(#lg)" stroke="#141010" stroke-width="2.6"/>
<g stroke="#161212" stroke-width="2" fill="none">
<line x1="403" y1="1231.5" x2="403" y2="1241"/>
<line x1="456.29" y1="1231.5" x2="456.29" y2="1241"/>
<line x1="509.57" y1="1231.5" x2="509.57" y2="1241"/>
<line x1="562.86" y1="1231.5" x2="562.86" y2="1241"/>
<line x1="616.14" y1="1231.5" x2="616.14" y2="1241"/>
<line x1="669.43" y1="1231.5" x2="669.43" y2="1241"/>
<line x1="722.71" y1="1231.5" x2="722.71" y2="1241"/>
<line x1="776" y1="1231.5" x2="776" y2="1241"/>
</g>
<g font-family="'Liberation Serif','Times New Roman',serif" font-size="22" fill="#161212" text-anchor="middle">
<text x="403" y="1265.5">-9.00</text>
<text x="456.29" y="1265.5">-6.00</text>
<text x="509.57" y="1265.5">-3.00</text>
<text x="562.86" y="1265.5">0.00</text>
<text x="616.14" y="1265.5">3.00</text>
<text x="669.43" y="1265.5">6.00</text>
<text x="722.71" y="1265.5">9.00</text>
<text x="776" y="1265.5">12.00</text>
</g>
</svg>
</body></html>
